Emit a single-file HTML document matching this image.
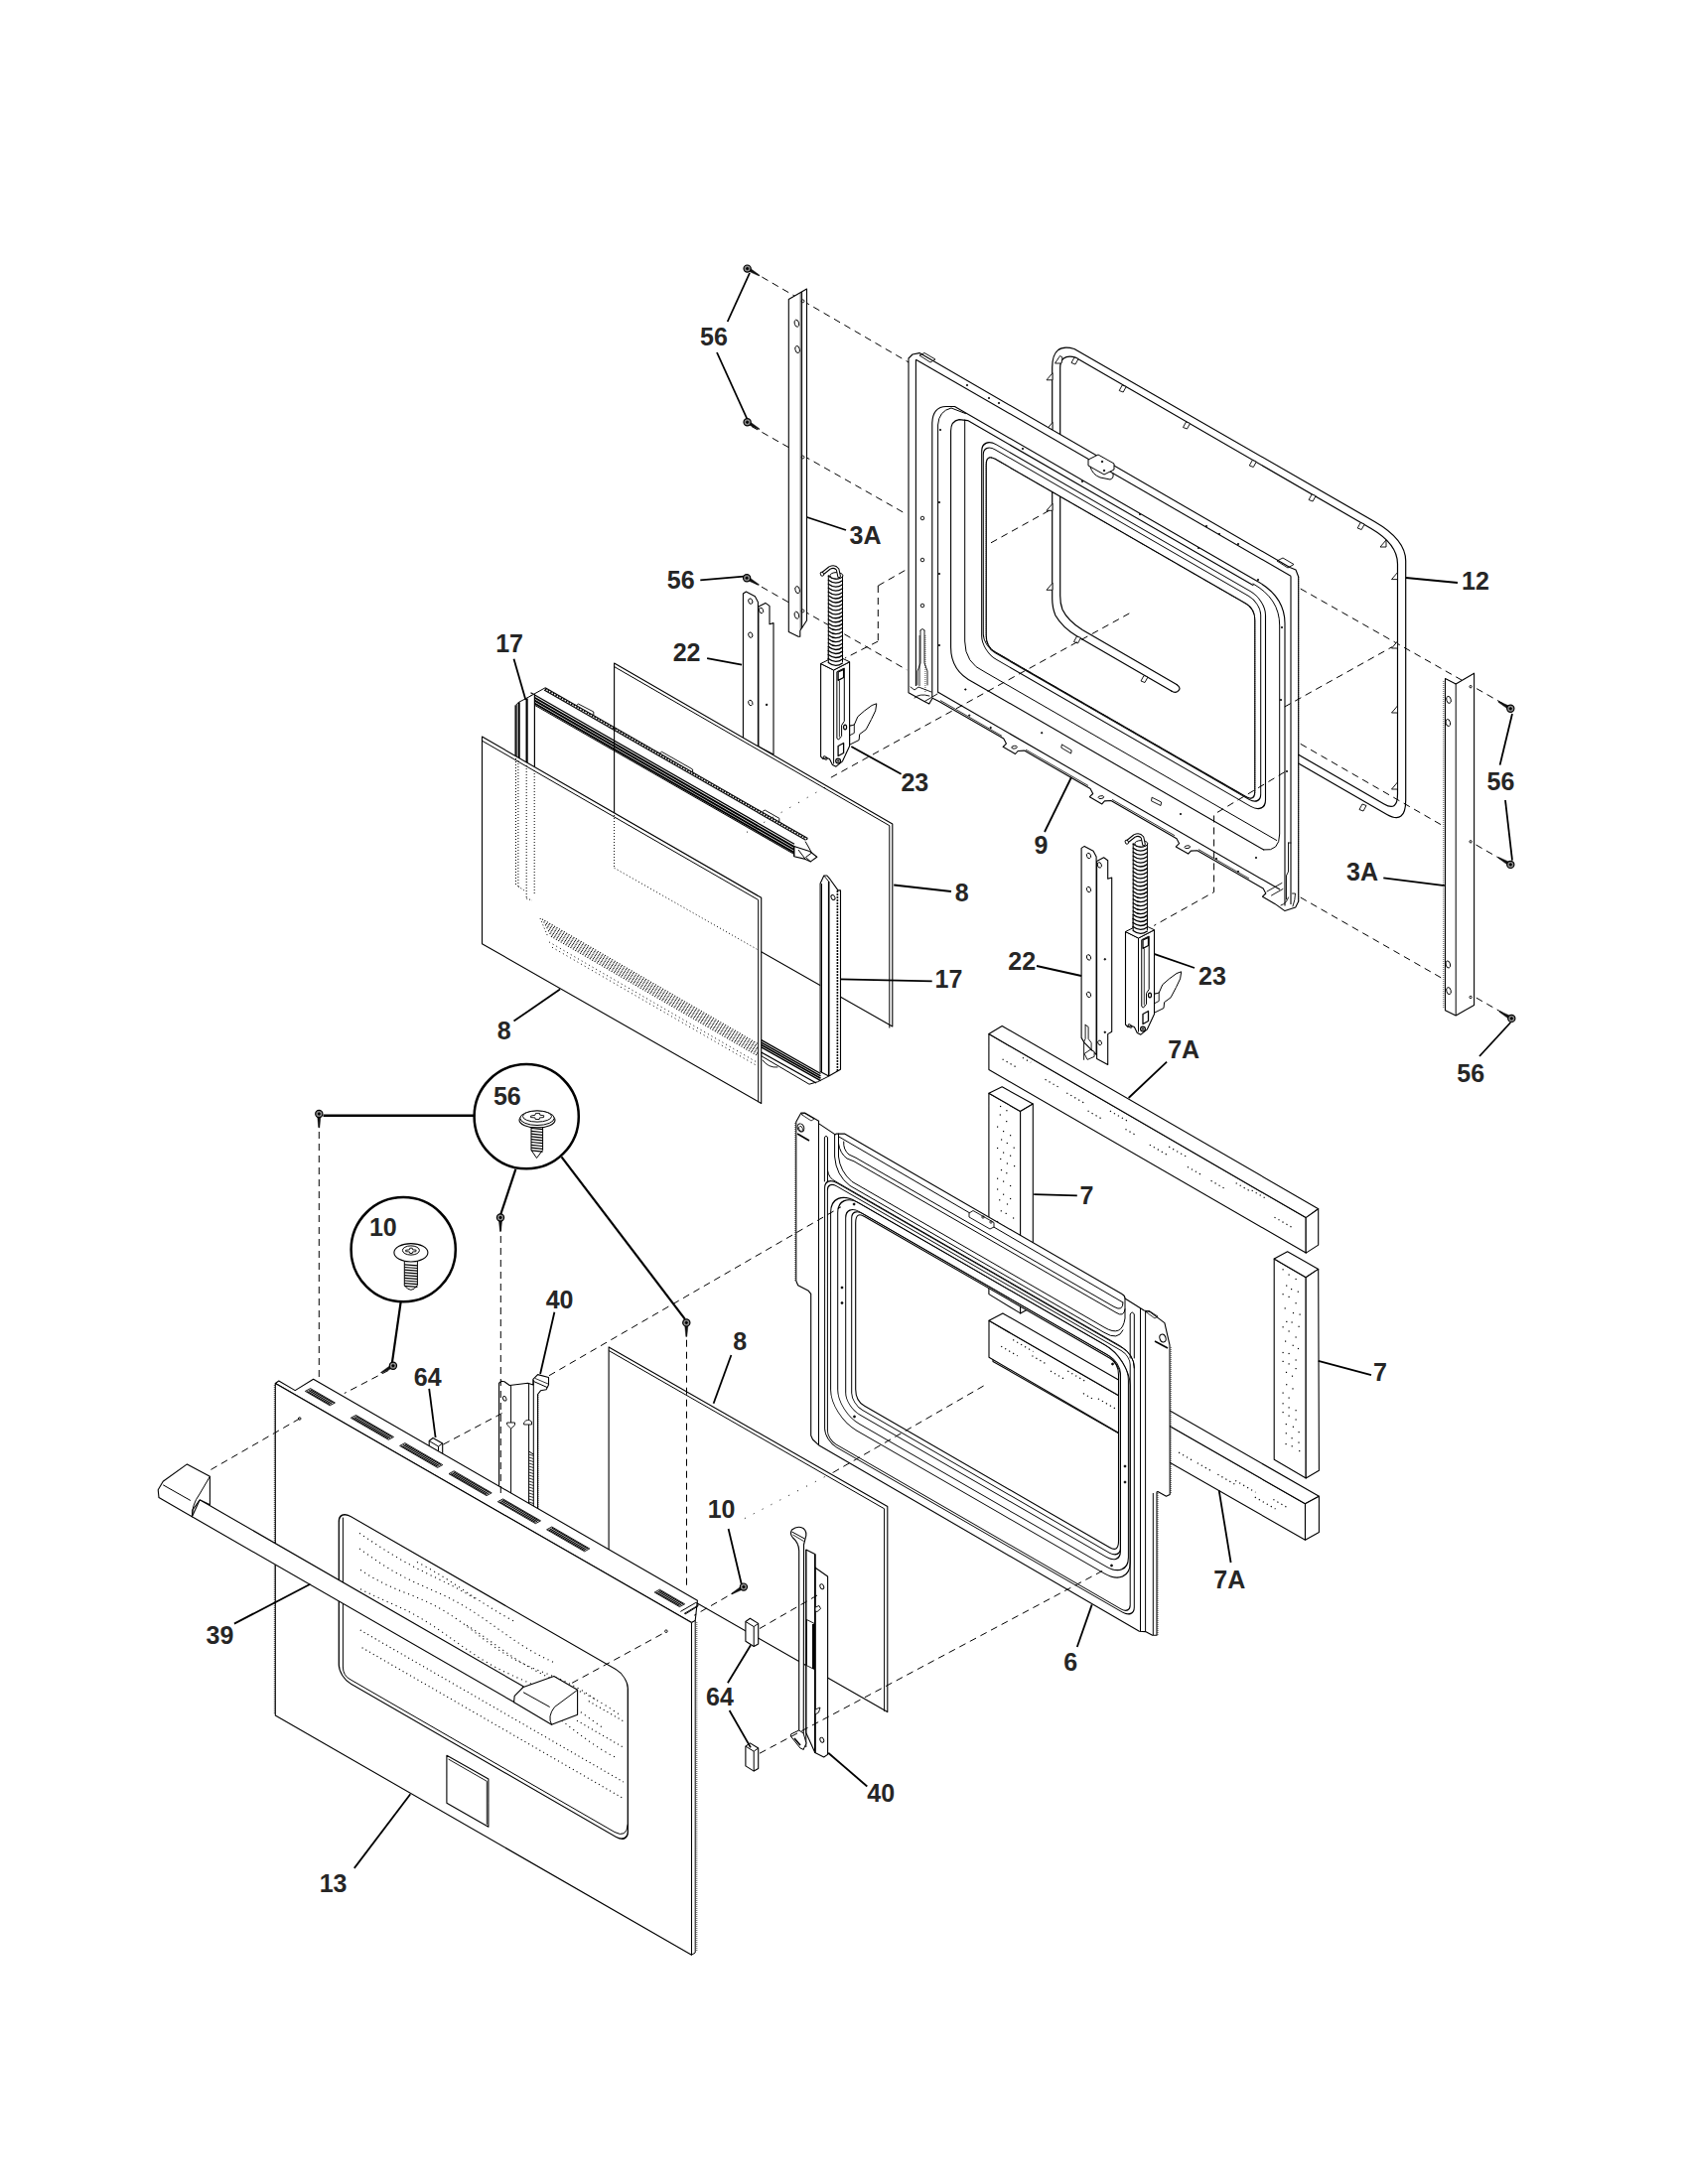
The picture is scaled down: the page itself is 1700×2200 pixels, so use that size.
<!DOCTYPE html>
<html><head><meta charset="utf-8"><title>Door exploded view</title>
<style>
html,body{margin:0;padding:0;background:#fff;}
svg{display:block;}
text{font-family:"Liberation Sans",sans-serif;font-weight:bold;fill:#262626;}
</style></head><body>
<svg width="1700" height="2200" viewBox="0 0 1700 2200">
<rect x="0" y="0" width="1700" height="2200" fill="#fff"/>
<line x1="757.0" y1="273.0" x2="916.0" y2="365.5" stroke="#000" stroke-width="1.0" stroke-dasharray="7 5"/>
<line x1="757.0" y1="429.5" x2="913.0" y2="518.0" stroke="#000" stroke-width="1.0" stroke-dasharray="7 5"/>
<line x1="756.6" y1="585.2" x2="913.3" y2="674.8" stroke="#000" stroke-width="1.0" stroke-dasharray="7 5"/>
<line x1="884.3" y1="590.0" x2="884.3" y2="646.0" stroke="#000" stroke-width="1.0" stroke-dasharray="7 5"/>
<line x1="884.3" y1="590.0" x2="930.0" y2="564.0" stroke="#000" stroke-width="1.0" stroke-dasharray="7 5"/>
<line x1="884.3" y1="646.0" x2="851.0" y2="663.0" stroke="#000" stroke-width="1.0" stroke-dasharray="7 5"/>
<line x1="1309.7" y1="593.0" x2="1519.5" y2="712.0" stroke="#000" stroke-width="1.0" stroke-dasharray="7 5"/>
<line x1="1309.7" y1="749.3" x2="1519.5" y2="870.0" stroke="#000" stroke-width="1.0" stroke-dasharray="7 5"/>
<line x1="1309.7" y1="904.0" x2="1519.5" y2="1023.8" stroke="#000" stroke-width="1.0" stroke-dasharray="7 5"/>
<path d="M1179.7,696 L1084.8,641 Q1069.9,632 1063,620 Q1059.7,612 1059.7,603 L1059.7,370 Q1059.8,345 1082,351.5 L1384.4,525.5 Q1415.7,543.6 1415.7,565 L1415.7,806 Q1415.7,831 1396.8,820.4 L1290,758.8" fill="none" stroke="#000" stroke-width="1.2" stroke-linejoin="round" stroke-linecap="round"/>
<path d="M1185,689.6 L1090.1,634.6 Q1075.2,625 1070,614 Q1067.7,608 1067.7,600 L1067.7,372 Q1067.2,356 1083,360 L1381,532.5 Q1407.5,548 1407.5,568 L1407.5,800 Q1407.5,818 1394,810 L1290,750" fill="none" stroke="#000" stroke-width="1.2" stroke-linejoin="round" stroke-linecap="round"/>
<path d="M1185,689.6 Q1190.5,693.5 1186,696.5 Q1183,698.3 1179.7,696" fill="none" stroke="#000" stroke-width="1.2" stroke-linejoin="round" stroke-linecap="round"/>
<polygon points="1082.0,360.0 1086.0,361.5 1083.0,367.0 1079.0,365.5" fill="#fff" stroke="#000" stroke-width="0.9" stroke-linejoin="round"/>
<polygon points="1130.2,388.0 1134.2,389.5 1131.2,395.0 1127.2,393.5" fill="#fff" stroke="#000" stroke-width="0.9" stroke-linejoin="round"/>
<polygon points="1194.5,425.0 1198.5,426.5 1195.5,432.0 1191.5,430.5" fill="#fff" stroke="#000" stroke-width="0.9" stroke-linejoin="round"/>
<polygon points="1261.3,463.5 1265.3,465.0 1262.3,470.5 1258.3,469.0" fill="#fff" stroke="#000" stroke-width="0.9" stroke-linejoin="round"/>
<polygon points="1321.1,498.0 1325.1,499.5 1322.1,505.0 1318.1,503.5" fill="#fff" stroke="#000" stroke-width="0.9" stroke-linejoin="round"/>
<polygon points="1370.2,526.5 1374.2,528.0 1371.2,533.5 1367.2,532.0" fill="#fff" stroke="#000" stroke-width="0.9" stroke-linejoin="round"/>
<polygon points="1396.0,544.0 1396.0,551.0 1390.0,551.0" fill="#fff" stroke="#000" stroke-width="0.9" stroke-linejoin="round"/>
<polygon points="1060.0,375.8 1060.0,382.8 1054.0,382.8" fill="#fff" stroke="#000" stroke-width="0.9" stroke-linejoin="round"/>
<polygon points="1060.0,425.5 1060.0,432.5 1054.0,432.5" fill="#fff" stroke="#000" stroke-width="0.9" stroke-linejoin="round"/>
<polygon points="1060.0,507.3 1060.0,514.3 1054.0,514.3" fill="#fff" stroke="#000" stroke-width="0.9" stroke-linejoin="round"/>
<polygon points="1060.0,587.3 1060.0,594.3 1054.0,594.3" fill="#fff" stroke="#000" stroke-width="0.9" stroke-linejoin="round"/>
<polygon points="1062.5,366.0 1067.5,358.5 1070.0,360.0 1069.0,366.0" fill="#fff" stroke="#000" stroke-width="0.9" stroke-linejoin="round"/>
<polygon points="1407.5,576.6 1407.5,583.6 1401.5,583.6" fill="#fff" stroke="#000" stroke-width="0.9" stroke-linejoin="round"/>
<polygon points="1407.5,646.0 1407.5,653.0 1401.5,653.0" fill="#fff" stroke="#000" stroke-width="0.9" stroke-linejoin="round"/>
<polygon points="1407.5,711.0 1407.5,718.0 1401.5,718.0" fill="#fff" stroke="#000" stroke-width="0.9" stroke-linejoin="round"/>
<polygon points="1407.5,788.0 1407.5,795.0 1401.5,795.0" fill="#fff" stroke="#000" stroke-width="0.9" stroke-linejoin="round"/>
<polygon points="1372.0,810.0 1376.0,811.5 1373.0,817.0 1369.0,815.5" fill="#fff" stroke="#000" stroke-width="0.9" stroke-linejoin="round"/>
<polygon points="1084.5,641.0 1088.5,642.5 1085.5,648.0 1081.5,646.5" fill="#fff" stroke="#000" stroke-width="0.9" stroke-linejoin="round"/>
<polygon points="1152.0,680.5 1156.0,682.0 1153.0,687.5 1149.0,686.0" fill="#fff" stroke="#000" stroke-width="0.9" stroke-linejoin="round"/>
<path d="M915.0,361.0 L919.0,357.0 L926.0,355.6 L1299.0,571.5 L1305.0,574.0 L1307.7,581.0 L1307.7,908.0 L1304.7,914.0 L1294.0,917.6 L1294.0,917.6 L1283.9,910.4 L1271.5,903.2 L1274.8,900.0 L1272.2,895.0 L1205.8,856.7 L1199.3,857.1 L1196.7,860.1 L1184.3,852.9 L1187.6,849.7 L1185.0,844.7 L1118.9,806.5 L1112.4,806.9 L1109.8,809.9 L1097.4,802.7 L1100.7,799.5 L1098.1,794.5 L1031.6,756.1 L1025.1,756.5 L1022.5,759.5 L1010.1,752.3 L1013.4,749.1 L1010.8,744.1 L945.6,706.5 L939.1,703.2 L935.8,709.1 L931.3,706.8 L915.0,697.8 Z M993.2,468.8 Q993.2,457.1 1002.2,462.3 L1254.8000000000002,608.1 Q1263.8000000000002,613.3 1263.8000000000002,625.0 L1263.8000000000002,796.1 Q1263.8000000000002,807.8 1254.8000000000002,802.6 L1002.2,656.8 Q993.2,651.6 993.2,639.9 Z" fill="#fff" fill-rule="evenodd" stroke="#000" stroke-width="1.1" stroke-linejoin="round"/>
<line x1="947.0" y1="705.5" x2="1009.0" y2="741.3" stroke="#000" stroke-width="0.8"/>
<line x1="1033.0" y1="755.1" x2="1096.0" y2="791.5" stroke="#000" stroke-width="0.8"/>
<line x1="1120.0" y1="805.4" x2="1183.0" y2="841.7" stroke="#000" stroke-width="0.8"/>
<line x1="1207.0" y1="855.6" x2="1258.0" y2="885.0" stroke="#000" stroke-width="0.8"/>
<ellipse cx="1021.6" cy="752.7" rx="2.8" ry="1.4" fill="none" stroke="#000" stroke-width="0.9" transform="rotate(-8 1021.6 752.7)"/>
<ellipse cx="1108.9" cy="803.1" rx="2.8" ry="1.4" fill="none" stroke="#000" stroke-width="0.9" transform="rotate(-8 1108.9 803.1)"/>
<ellipse cx="1195.8" cy="853.2" rx="2.8" ry="1.4" fill="none" stroke="#000" stroke-width="0.9" transform="rotate(-8 1195.8 853.2)"/>
<line x1="922.4" y1="362.2" x2="922.4" y2="691.0" stroke="#000" stroke-width="1.1"/>
<line x1="926.1" y1="640.0" x2="926.1" y2="691.0" stroke="#000" stroke-width="0.8"/>
<line x1="931.9" y1="640.0" x2="931.9" y2="697.0" stroke="#000" stroke-width="0.7" stroke-dasharray="1 1"/>
<line x1="922.4" y1="362.2" x2="1300.0" y2="580.2" stroke="#000" stroke-width="1.1"/>
<line x1="1300.0" y1="580.2" x2="1300.0" y2="911.0" stroke="#000" stroke-width="1.1"/>
<line x1="1307.7" y1="581.0" x2="1307.7" y2="908.0" stroke="#000" stroke-width="0.7" stroke-dasharray="1 1"/>
<line x1="944.3" y1="697.1" x2="1289.0" y2="896.1" stroke="#000" stroke-width="1.1"/>
<path d="M938.8,702 L938.8,426 Q939.5,409.5 953,409.5 L961.5,409.5 L1268,586.5 Q1294,602 1294,628 L1294,912" fill="none" stroke="#000" stroke-width="1.1" stroke-linejoin="round" stroke-linecap="round"/>
<path d="M944.6,697 L944.6,428 Q945.5,414 958,411 L972.5,416.6 M1262,588 Q1288.7,603 1288.7,630 L1288.7,840 Q1288.7,858 1272.7,856" fill="none" stroke="#000" stroke-width="1.0" stroke-linejoin="round" stroke-linecap="round"/>
<path d="M1262,589.5 L974.6,423.6 L966,422.6 Q957.6,424 957.6,434 L957.6,652 Q957.6,676 980,687.2 L1272.7,856" fill="none" stroke="#000" stroke-width="1.1" stroke-linejoin="round" stroke-linecap="round"/>
<path d="M971.7,423 L971.7,646 Q971.7,668 992,677 L1285.7,846.5" fill="none" stroke="#000" stroke-width="1.0" stroke-linejoin="round" stroke-linecap="round"/>
<rect x="0" y="0" width="285.8" height="216.5" rx="15" ry="15" transform="translate(988.7,439.4) skewY(30)" fill="none" stroke="#000" stroke-width="1.1"/>
<rect x="0" y="0" width="279.4" height="204.8" rx="12" ry="12" transform="translate(990.3,446.0) skewY(30)" fill="none" stroke="#000" stroke-width="1.0"/>
<rect x="0" y="0" width="270.6" height="194.5" rx="9" ry="9" transform="translate(993.2,457.1) skewY(30)" fill="none" stroke="#000" stroke-width="0.9" stroke-dasharray="1.2 0.8"/>
<polygon points="1069.4,749.9 1079.2,755.8 1078.6,759.0 1068.8,753.2" fill="none" stroke="#000" stroke-width="0.9" stroke-linejoin="round"/>
<polygon points="1160.1,803.2 1169.6,808.0 1169.0,811.5 1159.5,806.8" fill="none" stroke="#000" stroke-width="0.9" stroke-linejoin="round"/>
<circle cx="929.0" cy="522.0" r="1.8" fill="none" stroke="#000" stroke-width="0.9"/>
<circle cx="929.0" cy="564.0" r="1.8" fill="none" stroke="#000" stroke-width="0.9"/>
<circle cx="929.0" cy="610.0" r="1.8" fill="none" stroke="#000" stroke-width="0.9"/>
<path d="M927,635 L927,668 L924,676 L924,690 M931,635 L931,668 L934,676 L934,690 M927,635 Q929,632 931,635" fill="none" stroke="#000" stroke-width="0.9" stroke-linejoin="round" stroke-linecap="round"/>
<path d="M1297.5,849 L1297.5,878 L1295.5,882 L1295.5,906 M1300,849 L1297.5,849" fill="none" stroke="#000" stroke-width="0.9" stroke-linejoin="round" stroke-linecap="round"/>
<path d="M917,692 L921,695 L925,692 L938,697 M931.3,706.5 L944,699 M921,703 Q926,698 936,701" fill="none" stroke="#000" stroke-width="0.9" stroke-linejoin="round" stroke-linecap="round"/>
<path d="M1276,898 L1291,889.5 M1280.5,902 L1292,895.5 M1290,912 Q1296,910 1297.5,904 M1302,913 Q1304.5,906 1304.5,900 L1301.5,900" fill="none" stroke="#000" stroke-width="0.9" stroke-linejoin="round" stroke-linecap="round"/>
<polygon points="1096.0,463.0 1106.0,458.0 1122.0,467.0 1122.0,473.0 1112.0,478.0 1096.0,469.0" fill="#fff" stroke="#000" stroke-width="1.0" stroke-linejoin="round"/>
<path d="M1098,470 Q1100,478 1108,481 L1118,483 Q1122,482 1121,477" fill="none" stroke="#000" stroke-width="1.0" stroke-linejoin="round" stroke-linecap="round"/>
<circle cx="1110.0" cy="465.0" r="0.8" fill="#000" stroke="#000" stroke-width="0.8"/>
<circle cx="1112.0" cy="474.0" r="0.8" fill="#000" stroke="#000" stroke-width="0.8"/>
<polygon points="1286.0,565.0 1292.0,562.0 1303.0,568.5 1297.0,572.0" fill="none" stroke="#000" stroke-width="0.9" stroke-linejoin="round"/>
<polygon points="926.0,358.0 931.0,355.5 942.0,362.0 937.0,365.0" fill="none" stroke="#000" stroke-width="0.9" stroke-linejoin="round"/>
<circle cx="974.0" cy="388.0" r="0.7" fill="#000" stroke="#000" stroke-width="0.8"/>
<circle cx="996.0" cy="401.0" r="0.7" fill="#000" stroke="#000" stroke-width="0.8"/>
<circle cx="1006.0" cy="406.0" r="0.7" fill="#000" stroke="#000" stroke-width="0.8"/>
<circle cx="1030.0" cy="452.0" r="0.7" fill="#000" stroke="#000" stroke-width="0.8"/>
<circle cx="1090.0" cy="485.0" r="0.7" fill="#000" stroke="#000" stroke-width="0.8"/>
<circle cx="1148.0" cy="518.0" r="0.7" fill="#000" stroke="#000" stroke-width="0.8"/>
<circle cx="1207.0" cy="552.0" r="0.7" fill="#000" stroke="#000" stroke-width="0.8"/>
<circle cx="1215.0" cy="530.0" r="0.7" fill="#000" stroke="#000" stroke-width="0.8"/>
<circle cx="1228.0" cy="538.0" r="0.7" fill="#000" stroke="#000" stroke-width="0.8"/>
<circle cx="1247.0" cy="548.0" r="0.7" fill="#000" stroke="#000" stroke-width="0.8"/>
<circle cx="1267.0" cy="584.0" r="0.7" fill="#000" stroke="#000" stroke-width="0.8"/>
<circle cx="947.0" cy="433.0" r="0.7" fill="#000" stroke="#000" stroke-width="0.8"/>
<circle cx="946.0" cy="506.0" r="0.7" fill="#000" stroke="#000" stroke-width="0.8"/>
<circle cx="946.0" cy="578.0" r="0.7" fill="#000" stroke="#000" stroke-width="0.8"/>
<circle cx="946.0" cy="650.0" r="0.7" fill="#000" stroke="#000" stroke-width="0.8"/>
<circle cx="972.3" cy="694.5" r="0.7" fill="#000" stroke="#000" stroke-width="0.8"/>
<circle cx="976.2" cy="720.6" r="0.7" fill="#000" stroke="#000" stroke-width="0.8"/>
<circle cx="997.7" cy="733.0" r="0.7" fill="#000" stroke="#000" stroke-width="0.8"/>
<circle cx="1049.2" cy="738.2" r="0.7" fill="#000" stroke="#000" stroke-width="0.8"/>
<circle cx="1189.0" cy="820.0" r="0.7" fill="#000" stroke="#000" stroke-width="0.8"/>
<circle cx="1265.0" cy="864.0" r="0.7" fill="#000" stroke="#000" stroke-width="0.8"/>
<circle cx="1225.0" cy="865.0" r="0.7" fill="#000" stroke="#000" stroke-width="0.8"/>
<circle cx="1247.0" cy="878.0" r="0.7" fill="#000" stroke="#000" stroke-width="0.8"/>
<circle cx="1296.0" cy="777.0" r="0.7" fill="#000" stroke="#000" stroke-width="0.8"/>
<circle cx="1291.0" cy="632.0" r="0.7" fill="#000" stroke="#000" stroke-width="0.8"/>
<circle cx="1290.0" cy="705.0" r="0.7" fill="#000" stroke="#000" stroke-width="0.8"/>
<polygon points="794.3,301.5 812.5,291.0 812.5,625.0 805.8,635.3 805.8,641.2 804.0,641.2 794.3,636.5" fill="#fff" stroke="#000" stroke-width="1.1" stroke-linejoin="round"/>
<line x1="807.6" y1="294.0" x2="807.6" y2="633.0" stroke="#000" stroke-width="1.0"/>
<line x1="806.2" y1="295.0" x2="806.2" y2="634.0" stroke="#000" stroke-width="0.7"/>
<ellipse cx="802.4" cy="325.7" rx="2.2" ry="3.6" fill="none" stroke="#000" stroke-width="0.9" transform="rotate(-15 802.4 325.7)"/>
<ellipse cx="803.1" cy="352.0" rx="2.2" ry="3.6" fill="none" stroke="#000" stroke-width="0.9" transform="rotate(-15 803.1 352.0)"/>
<ellipse cx="803.1" cy="594.1" rx="2.2" ry="3.6" fill="none" stroke="#000" stroke-width="0.9" transform="rotate(-15 803.1 594.1)"/>
<ellipse cx="802.4" cy="619.7" rx="2.2" ry="3.6" fill="none" stroke="#000" stroke-width="0.9" transform="rotate(-15 802.4 619.7)"/>
<circle cx="808.6" cy="303.3" r="1.4" fill="none" stroke="#000" stroke-width="0.9"/>
<circle cx="808.6" cy="460.5" r="1.4" fill="none" stroke="#000" stroke-width="0.9"/>
<circle cx="808.6" cy="615.4" r="1.4" fill="none" stroke="#000" stroke-width="0.9"/>
<polygon points="1455.5,683.5 1466.2,688.9 1484.6,678.2 1484.6,1012.4 1466.2,1023.0 1455.5,1017.7" fill="#fff" stroke="#000" stroke-width="1.1" stroke-linejoin="round"/>
<line x1="1466.2" y1="688.9" x2="1466.2" y2="1023.0" stroke="#000" stroke-width="1.0"/>
<line x1="1453.8" y1="686.0" x2="1453.8" y2="1015.0" stroke="#000" stroke-width="0.7" stroke-dasharray="1 1"/>
<ellipse cx="1459.0" cy="704.9" rx="2.2" ry="3.6" fill="none" stroke="#000" stroke-width="0.9" transform="rotate(-15 1459.0 704.9)"/>
<ellipse cx="1458.3" cy="728.0" rx="2.2" ry="3.6" fill="none" stroke="#000" stroke-width="0.9" transform="rotate(-15 1458.3 728.0)"/>
<ellipse cx="1458.3" cy="971.5" rx="2.2" ry="3.6" fill="none" stroke="#000" stroke-width="0.9" transform="rotate(-15 1458.3 971.5)"/>
<ellipse cx="1459.0" cy="998.1" rx="2.2" ry="3.6" fill="none" stroke="#000" stroke-width="0.9" transform="rotate(-15 1459.0 998.1)"/>
<circle cx="1481.1" cy="691.7" r="1.2" fill="none" stroke="#000" stroke-width="0.9"/>
<circle cx="1481.1" cy="847.8" r="1.2" fill="none" stroke="#000" stroke-width="0.9"/>
<circle cx="1481.1" cy="1004.5" r="1.2" fill="none" stroke="#000" stroke-width="0.9"/>
<polygon points="748.4,598.0 751.4,596.0 760.4,600.8 763.4,606.5 763.4,757.0 748.4,748.0" fill="#fff" stroke="#000" stroke-width="1.1" stroke-linejoin="round"/>
<polygon points="763.9,611.0 770.9,607.4 775.0,610.4 775.0,628.8 779.0,627.6 779.0,760.0 763.9,752.0" fill="#fff" stroke="#000" stroke-width="1.1" stroke-linejoin="round"/>
<ellipse cx="755.8" cy="605.6" rx="2" ry="2.8" fill="none" stroke="#000" stroke-width="0.9" transform="rotate(-20 755.8 605.6)"/>
<ellipse cx="766.6" cy="615.0" rx="2" ry="2.8" fill="none" stroke="#000" stroke-width="0.9" transform="rotate(-20 766.6 615.0)"/>
<ellipse cx="755.8" cy="639.6" rx="2" ry="2.8" fill="none" stroke="#000" stroke-width="0.9" transform="rotate(-20 755.8 639.6)"/>
<ellipse cx="755.8" cy="708.0" rx="2" ry="2.8" fill="none" stroke="#000" stroke-width="0.9" transform="rotate(-20 755.8 708.0)"/>
<circle cx="772.1" cy="709.9" r="0.8" fill="#000" stroke="#000" stroke-width="0.8"/>
<polygon points="855.6,731.3 860.3,730.1 863.9,721.8 870.6,716.0 878.1,710.5 882.8,708.8 881.7,715.9 877.6,724.5 872.2,734.8 865.7,739.6 865.1,745.5 855.6,750.2" fill="#fff" stroke="#000" stroke-width="1.0" stroke-linejoin="round"/>
<polygon points="855.6,731.3 860.3,730.1 860.3,738.4 855.6,740.8" fill="#fff" stroke="#000" stroke-width="0.9" stroke-linejoin="round"/>
<polygon points="834.3,581.3 848.5,581.3 848.5,667.5 834.3,667.5" fill="#fff" stroke="#fff" stroke-width="0.1" stroke-linejoin="round"/>
<line x1="834.3" y1="579.3" x2="834.3" y2="667.5" stroke="#000" stroke-width="1.0"/>
<line x1="848.5" y1="579.3" x2="848.5" y2="667.5" stroke="#000" stroke-width="1.0"/>
<path d="M834.3,580.3 Q841.4,585.8 848.5,580.8" fill="none" stroke="#000" stroke-width="1.3" stroke-linejoin="round" stroke-linecap="round"/>
<path d="M834.3,584.3 Q841.4,589.8 848.5,584.8" fill="none" stroke="#000" stroke-width="1.3" stroke-linejoin="round" stroke-linecap="round"/>
<path d="M834.3,588.2 Q841.4,593.7 848.5,588.7" fill="none" stroke="#000" stroke-width="1.3" stroke-linejoin="round" stroke-linecap="round"/>
<path d="M834.3,592.2 Q841.4,597.7 848.5,592.7" fill="none" stroke="#000" stroke-width="1.3" stroke-linejoin="round" stroke-linecap="round"/>
<path d="M834.3,596.2 Q841.4,601.7 848.5,596.7" fill="none" stroke="#000" stroke-width="1.3" stroke-linejoin="round" stroke-linecap="round"/>
<path d="M834.3,600.1 Q841.4,605.6 848.5,600.6" fill="none" stroke="#000" stroke-width="1.3" stroke-linejoin="round" stroke-linecap="round"/>
<path d="M834.3,604.1 Q841.4,609.6 848.5,604.6" fill="none" stroke="#000" stroke-width="1.3" stroke-linejoin="round" stroke-linecap="round"/>
<path d="M834.3,608.0 Q841.4,613.5 848.5,608.5" fill="none" stroke="#000" stroke-width="1.3" stroke-linejoin="round" stroke-linecap="round"/>
<path d="M834.3,612.0 Q841.4,617.5 848.5,612.5" fill="none" stroke="#000" stroke-width="1.3" stroke-linejoin="round" stroke-linecap="round"/>
<path d="M834.3,616.0 Q841.4,621.5 848.5,616.5" fill="none" stroke="#000" stroke-width="1.3" stroke-linejoin="round" stroke-linecap="round"/>
<path d="M834.3,619.9 Q841.4,625.4 848.5,620.4" fill="none" stroke="#000" stroke-width="1.3" stroke-linejoin="round" stroke-linecap="round"/>
<path d="M834.3,623.9 Q841.4,629.4 848.5,624.4" fill="none" stroke="#000" stroke-width="1.3" stroke-linejoin="round" stroke-linecap="round"/>
<path d="M834.3,627.9 Q841.4,633.4 848.5,628.4" fill="none" stroke="#000" stroke-width="1.3" stroke-linejoin="round" stroke-linecap="round"/>
<path d="M834.3,631.8 Q841.4,637.3 848.5,632.3" fill="none" stroke="#000" stroke-width="1.3" stroke-linejoin="round" stroke-linecap="round"/>
<path d="M834.3,635.8 Q841.4,641.3 848.5,636.3" fill="none" stroke="#000" stroke-width="1.3" stroke-linejoin="round" stroke-linecap="round"/>
<path d="M834.3,639.8 Q841.4,645.3 848.5,640.3" fill="none" stroke="#000" stroke-width="1.3" stroke-linejoin="round" stroke-linecap="round"/>
<path d="M834.3,643.7 Q841.4,649.2 848.5,644.2" fill="none" stroke="#000" stroke-width="1.3" stroke-linejoin="round" stroke-linecap="round"/>
<path d="M834.3,647.7 Q841.4,653.2 848.5,648.2" fill="none" stroke="#000" stroke-width="1.3" stroke-linejoin="round" stroke-linecap="round"/>
<path d="M834.3,651.6 Q841.4,657.1 848.5,652.1" fill="none" stroke="#000" stroke-width="1.3" stroke-linejoin="round" stroke-linecap="round"/>
<path d="M834.3,655.6 Q841.4,661.1 848.5,656.1" fill="none" stroke="#000" stroke-width="1.3" stroke-linejoin="round" stroke-linecap="round"/>
<path d="M834.3,659.6 Q841.4,665.1 848.5,660.1" fill="none" stroke="#000" stroke-width="1.3" stroke-linejoin="round" stroke-linecap="round"/>
<path d="M834.3,663.5 Q841.4,669.0 848.5,664.0" fill="none" stroke="#000" stroke-width="1.3" stroke-linejoin="round" stroke-linecap="round"/>
<path d="M834.3,667.5 Q841.4,673.0 848.5,668.0" fill="none" stroke="#000" stroke-width="1.3" stroke-linejoin="round" stroke-linecap="round"/>
<ellipse cx="842.4" cy="579.8" rx="6.5" ry="3.2" fill="#fff" stroke="#000" stroke-width="1.0" transform="rotate(0 842.4 579.8)"/>
<path d="M828.1,578.0 L835.6,572.0 Q840.6,569.5 843.6,573.5 L845.1,580.5" fill="none" stroke="#000" stroke-width="3.6" stroke-linejoin="round" stroke-linecap="round"/>
<path d="M828.1,578.0 L835.6,572.0 Q840.6,569.5 843.6,573.5 L845.1,580.5" fill="none" stroke="#fff" stroke-width="1.6" stroke-linejoin="round" stroke-linecap="round"/>
<ellipse cx="827.9" cy="578.2" rx="1.6" ry="2.0" fill="#fff" stroke="#000" stroke-width="0.9" transform="rotate(-30 827.9 578.2)"/>
<polygon points="826.6,668.5 839.6,675.0 855.6,666.7 855.6,751.4 848.5,766.8 842.0,772.2 838.4,770.4 835.5,764.5 832.5,763.5 829.0,764.5 826.6,762.1" fill="#fff" stroke="#000" stroke-width="1.1" stroke-linejoin="round"/>
<polygon points="826.6,668.5 839.6,675.0 855.6,666.7 842.6,660.5" fill="#fff" stroke="#000" stroke-width="1.0" stroke-linejoin="round"/>
<polygon points="834.3,652.5 848.5,652.5 848.5,667.0 841.4,670.5 834.3,667.5" fill="#fff" stroke="#fff" stroke-width="0.1" stroke-linejoin="round"/>
<path d="M834.3,651.6 Q841.4,657.1 848.5,652.1" fill="none" stroke="#000" stroke-width="1.3" stroke-linejoin="round" stroke-linecap="round"/>
<path d="M834.3,655.6 Q841.4,661.1 848.5,656.1" fill="none" stroke="#000" stroke-width="1.3" stroke-linejoin="round" stroke-linecap="round"/>
<path d="M834.3,659.6 Q841.4,665.1 848.5,660.1" fill="none" stroke="#000" stroke-width="1.3" stroke-linejoin="round" stroke-linecap="round"/>
<path d="M834.3,663.5 Q841.4,669.0 848.5,664.0" fill="none" stroke="#000" stroke-width="1.3" stroke-linejoin="round" stroke-linecap="round"/>
<path d="M834.3,667.5 Q841.4,673.0 848.5,668.0" fill="none" stroke="#000" stroke-width="1.3" stroke-linejoin="round" stroke-linecap="round"/>
<line x1="834.3" y1="652.5" x2="834.3" y2="667.5" stroke="#000" stroke-width="1.0"/>
<line x1="848.5" y1="652.5" x2="848.5" y2="667.0" stroke="#000" stroke-width="1.0"/>
<line x1="839.6" y1="675.0" x2="839.6" y2="769.5" stroke="#000" stroke-width="1.0"/>
<path d="M843.2,676.5 L850.3000000000001,673.0 L850.3000000000001,726.5 L847.6,730.5 L847.6,741.5 L844.6,745.0 L843.2,744.0 Z" fill="none" stroke="#000" stroke-width="1.0" stroke-linejoin="round" stroke-linecap="round"/>
<line x1="845.4" y1="685.5" x2="845.4" y2="742.5" stroke="#000" stroke-width="0.8"/>
<polygon points="844.1,677.0 849.6,674.3 849.6,682.5 844.1,685.3" fill="none" stroke="#000" stroke-width="1.3" stroke-linejoin="round"/>
<polygon points="844.1,751.5 849.6,748.5 849.6,758.5 844.1,761.5" fill="none" stroke="#000" stroke-width="1.3" stroke-linejoin="round"/>
<ellipse cx="851.1" cy="732.5" rx="1.5" ry="2.4" fill="none" stroke="#000" stroke-width="1.2" transform="rotate(0 851.1 732.5)"/>
<circle cx="844.1" cy="766.5" r="2.4" fill="none" stroke="#000" stroke-width="1.2"/>
<circle cx="844.1" cy="766.5" r="0.8" fill="#000" stroke="#000" stroke-width="0.8"/>
<ellipse cx="831.1" cy="763.5" rx="2.2" ry="1.4" fill="none" stroke="#000" stroke-width="0.9" transform="rotate(30 831.1 763.5)"/>
<polygon points="1089.1,854.4 1092.1,852.4 1101.1,857.2 1104.1,862.9 1104.1,1062.4 1092.1,1050.4 1089.1,1045.4" fill="#fff" stroke="#000" stroke-width="1.1" stroke-linejoin="round"/>
<polygon points="1104.6,867.4 1111.6,863.8 1115.7,866.8 1115.7,885.2 1119.7,884.0 1119.7,1039.2 1115.7,1041.6 1115.7,1072.4 1104.6,1066.4" fill="#fff" stroke="#000" stroke-width="1.1" stroke-linejoin="round"/>
<ellipse cx="1096.5" cy="862.0" rx="2" ry="2.8" fill="none" stroke="#000" stroke-width="0.9" transform="rotate(-20 1096.5 862.0)"/>
<ellipse cx="1107.3" cy="871.4" rx="2" ry="2.8" fill="none" stroke="#000" stroke-width="0.9" transform="rotate(-20 1107.3 871.4)"/>
<ellipse cx="1096.5" cy="896.0" rx="2" ry="2.8" fill="none" stroke="#000" stroke-width="0.9" transform="rotate(-20 1096.5 896.0)"/>
<ellipse cx="1096.5" cy="964.4" rx="2" ry="2.8" fill="none" stroke="#000" stroke-width="0.9" transform="rotate(-20 1096.5 964.4)"/>
<ellipse cx="1096.5" cy="1001.9" rx="2" ry="2.8" fill="none" stroke="#000" stroke-width="0.9" transform="rotate(-20 1096.5 1001.9)"/>
<circle cx="1112.8" cy="966.3" r="0.8" fill="#000" stroke="#000" stroke-width="0.8"/>
<circle cx="1112.8" cy="1039.8" r="0.8" fill="#000" stroke="#000" stroke-width="0.8"/>
<path d="M1093.1,1032.4 l3,2 l0,12 l3,4 l0,14 M1093.1,1032.4 l0,14 l-1.5,3 l0,18" fill="none" stroke="#000" stroke-width="0.9" stroke-linejoin="round" stroke-linecap="round"/>
<ellipse cx="1107.6" cy="1050.4" rx="1.8" ry="2.4" fill="none" stroke="#000" stroke-width="0.9" transform="rotate(-20 1107.6 1050.4)"/>
<polygon points="1092.1,1061.4 1098.1,1057.4 1102.1,1059.4 1102.1,1064.4 1095.1,1067.4" fill="#fff" stroke="#000" stroke-width="0.9" stroke-linejoin="round"/>
<polygon points="1162.5,1001.3 1167.2,1000.1 1170.8,991.8 1177.5,986.0 1185.0,980.5 1189.7,978.8 1188.6,985.9 1184.5,994.5 1179.1,1004.8 1172.6,1009.6 1172.0,1015.5 1162.5,1020.2" fill="#fff" stroke="#000" stroke-width="1.0" stroke-linejoin="round"/>
<polygon points="1162.5,1001.3 1167.2,1000.1 1167.2,1008.4 1162.5,1010.8" fill="#fff" stroke="#000" stroke-width="0.9" stroke-linejoin="round"/>
<polygon points="1141.2,851.3 1155.4,851.3 1155.4,937.5 1141.2,937.5" fill="#fff" stroke="#fff" stroke-width="0.1" stroke-linejoin="round"/>
<line x1="1141.2" y1="849.3" x2="1141.2" y2="937.5" stroke="#000" stroke-width="1.0"/>
<line x1="1155.4" y1="849.3" x2="1155.4" y2="937.5" stroke="#000" stroke-width="1.0"/>
<path d="M1141.2,850.3 Q1148.3,855.8 1155.4,850.8" fill="none" stroke="#000" stroke-width="1.3" stroke-linejoin="round" stroke-linecap="round"/>
<path d="M1141.2,854.3 Q1148.3,859.8 1155.4,854.8" fill="none" stroke="#000" stroke-width="1.3" stroke-linejoin="round" stroke-linecap="round"/>
<path d="M1141.2,858.2 Q1148.3,863.7 1155.4,858.7" fill="none" stroke="#000" stroke-width="1.3" stroke-linejoin="round" stroke-linecap="round"/>
<path d="M1141.2,862.2 Q1148.3,867.7 1155.4,862.7" fill="none" stroke="#000" stroke-width="1.3" stroke-linejoin="round" stroke-linecap="round"/>
<path d="M1141.2,866.2 Q1148.3,871.7 1155.4,866.7" fill="none" stroke="#000" stroke-width="1.3" stroke-linejoin="round" stroke-linecap="round"/>
<path d="M1141.2,870.1 Q1148.3,875.6 1155.4,870.6" fill="none" stroke="#000" stroke-width="1.3" stroke-linejoin="round" stroke-linecap="round"/>
<path d="M1141.2,874.1 Q1148.3,879.6 1155.4,874.6" fill="none" stroke="#000" stroke-width="1.3" stroke-linejoin="round" stroke-linecap="round"/>
<path d="M1141.2,878.0 Q1148.3,883.5 1155.4,878.5" fill="none" stroke="#000" stroke-width="1.3" stroke-linejoin="round" stroke-linecap="round"/>
<path d="M1141.2,882.0 Q1148.3,887.5 1155.4,882.5" fill="none" stroke="#000" stroke-width="1.3" stroke-linejoin="round" stroke-linecap="round"/>
<path d="M1141.2,886.0 Q1148.3,891.5 1155.4,886.5" fill="none" stroke="#000" stroke-width="1.3" stroke-linejoin="round" stroke-linecap="round"/>
<path d="M1141.2,889.9 Q1148.3,895.4 1155.4,890.4" fill="none" stroke="#000" stroke-width="1.3" stroke-linejoin="round" stroke-linecap="round"/>
<path d="M1141.2,893.9 Q1148.3,899.4 1155.4,894.4" fill="none" stroke="#000" stroke-width="1.3" stroke-linejoin="round" stroke-linecap="round"/>
<path d="M1141.2,897.9 Q1148.3,903.4 1155.4,898.4" fill="none" stroke="#000" stroke-width="1.3" stroke-linejoin="round" stroke-linecap="round"/>
<path d="M1141.2,901.8 Q1148.3,907.3 1155.4,902.3" fill="none" stroke="#000" stroke-width="1.3" stroke-linejoin="round" stroke-linecap="round"/>
<path d="M1141.2,905.8 Q1148.3,911.3 1155.4,906.3" fill="none" stroke="#000" stroke-width="1.3" stroke-linejoin="round" stroke-linecap="round"/>
<path d="M1141.2,909.8 Q1148.3,915.3 1155.4,910.3" fill="none" stroke="#000" stroke-width="1.3" stroke-linejoin="round" stroke-linecap="round"/>
<path d="M1141.2,913.7 Q1148.3,919.2 1155.4,914.2" fill="none" stroke="#000" stroke-width="1.3" stroke-linejoin="round" stroke-linecap="round"/>
<path d="M1141.2,917.7 Q1148.3,923.2 1155.4,918.2" fill="none" stroke="#000" stroke-width="1.3" stroke-linejoin="round" stroke-linecap="round"/>
<path d="M1141.2,921.6 Q1148.3,927.1 1155.4,922.1" fill="none" stroke="#000" stroke-width="1.3" stroke-linejoin="round" stroke-linecap="round"/>
<path d="M1141.2,925.6 Q1148.3,931.1 1155.4,926.1" fill="none" stroke="#000" stroke-width="1.3" stroke-linejoin="round" stroke-linecap="round"/>
<path d="M1141.2,929.6 Q1148.3,935.1 1155.4,930.1" fill="none" stroke="#000" stroke-width="1.3" stroke-linejoin="round" stroke-linecap="round"/>
<path d="M1141.2,933.5 Q1148.3,939.0 1155.4,934.0" fill="none" stroke="#000" stroke-width="1.3" stroke-linejoin="round" stroke-linecap="round"/>
<path d="M1141.2,937.5 Q1148.3,943.0 1155.4,938.0" fill="none" stroke="#000" stroke-width="1.3" stroke-linejoin="round" stroke-linecap="round"/>
<ellipse cx="1149.3" cy="849.8" rx="6.5" ry="3.2" fill="#fff" stroke="#000" stroke-width="1.0" transform="rotate(0 1149.3 849.8)"/>
<path d="M1135.0,848.0 L1142.5,842.0 Q1147.5,839.5 1150.5,843.5 L1152.0,850.5" fill="none" stroke="#000" stroke-width="3.6" stroke-linejoin="round" stroke-linecap="round"/>
<path d="M1135.0,848.0 L1142.5,842.0 Q1147.5,839.5 1150.5,843.5 L1152.0,850.5" fill="none" stroke="#fff" stroke-width="1.6" stroke-linejoin="round" stroke-linecap="round"/>
<ellipse cx="1134.8" cy="848.2" rx="1.6" ry="2.0" fill="#fff" stroke="#000" stroke-width="0.9" transform="rotate(-30 1134.8 848.2)"/>
<polygon points="1133.5,938.5 1146.5,945.0 1162.5,936.7 1162.5,1021.4 1155.4,1036.8 1148.9,1042.2 1145.3,1040.4 1142.4,1034.5 1139.4,1033.5 1135.9,1034.5 1133.5,1032.1" fill="#fff" stroke="#000" stroke-width="1.1" stroke-linejoin="round"/>
<polygon points="1133.5,938.5 1146.5,945.0 1162.5,936.7 1149.5,930.5" fill="#fff" stroke="#000" stroke-width="1.0" stroke-linejoin="round"/>
<polygon points="1141.2,922.5 1155.4,922.5 1155.4,937.0 1148.3,940.5 1141.2,937.5" fill="#fff" stroke="#fff" stroke-width="0.1" stroke-linejoin="round"/>
<path d="M1141.2,921.6 Q1148.3,927.1 1155.4,922.1" fill="none" stroke="#000" stroke-width="1.3" stroke-linejoin="round" stroke-linecap="round"/>
<path d="M1141.2,925.6 Q1148.3,931.1 1155.4,926.1" fill="none" stroke="#000" stroke-width="1.3" stroke-linejoin="round" stroke-linecap="round"/>
<path d="M1141.2,929.6 Q1148.3,935.1 1155.4,930.1" fill="none" stroke="#000" stroke-width="1.3" stroke-linejoin="round" stroke-linecap="round"/>
<path d="M1141.2,933.5 Q1148.3,939.0 1155.4,934.0" fill="none" stroke="#000" stroke-width="1.3" stroke-linejoin="round" stroke-linecap="round"/>
<path d="M1141.2,937.5 Q1148.3,943.0 1155.4,938.0" fill="none" stroke="#000" stroke-width="1.3" stroke-linejoin="round" stroke-linecap="round"/>
<line x1="1141.2" y1="922.5" x2="1141.2" y2="937.5" stroke="#000" stroke-width="1.0"/>
<line x1="1155.4" y1="922.5" x2="1155.4" y2="937.0" stroke="#000" stroke-width="1.0"/>
<line x1="1146.5" y1="945.0" x2="1146.5" y2="1039.5" stroke="#000" stroke-width="1.0"/>
<path d="M1150.1,946.5 L1157.2,943.0 L1157.2,996.5 L1154.5,1000.5 L1154.5,1011.5 L1151.5,1015.0 L1150.1,1014.0 Z" fill="none" stroke="#000" stroke-width="1.0" stroke-linejoin="round" stroke-linecap="round"/>
<line x1="1152.3" y1="955.5" x2="1152.3" y2="1012.5" stroke="#000" stroke-width="0.8"/>
<polygon points="1151.0,947.0 1156.5,944.3 1156.5,952.5 1151.0,955.3" fill="none" stroke="#000" stroke-width="1.3" stroke-linejoin="round"/>
<polygon points="1151.0,1021.5 1156.5,1018.5 1156.5,1028.5 1151.0,1031.5" fill="none" stroke="#000" stroke-width="1.3" stroke-linejoin="round"/>
<ellipse cx="1158.0" cy="1002.5" rx="1.5" ry="2.4" fill="none" stroke="#000" stroke-width="1.2" transform="rotate(0 1158.0 1002.5)"/>
<circle cx="1151.0" cy="1036.5" r="2.4" fill="none" stroke="#000" stroke-width="1.2"/>
<circle cx="1151.0" cy="1036.5" r="0.8" fill="#000" stroke="#000" stroke-width="0.8"/>
<ellipse cx="1138.0" cy="1033.5" rx="2.2" ry="1.4" fill="none" stroke="#000" stroke-width="0.9" transform="rotate(30 1138.0 1033.5)"/>
<line x1="836.9" y1="783.2" x2="1137.3" y2="617.9" stroke="#000" stroke-width="1.0" stroke-dasharray="7 5"/>
<line x1="998.0" y1="546.8" x2="1059.0" y2="513.0" stroke="#000" stroke-width="1.0" stroke-dasharray="7 5"/>
<line x1="1293.7" y1="712.0" x2="1402.0" y2="651.7" stroke="#000" stroke-width="1.0" stroke-dasharray="7 5"/>
<polyline points="1293.7,777.7 1222.6,820.4 1222.6,898.6 1162.2,932.4" fill="none" stroke="#000" stroke-width="1.0" stroke-linejoin="round" stroke-dasharray="7 5"/>
<polygon points="618.6,668.1 898.8,829.9 898.8,1034.0 618.6,874.3" fill="#fff" stroke="#000" stroke-width="1.1" stroke-linejoin="round"/>
<line x1="618.6" y1="671.6" x2="895.8" y2="831.7" stroke="#000" stroke-width="1.0"/>
<line x1="895.8" y1="831.7" x2="895.8" y2="1035.5" stroke="#000" stroke-width="1.0"/>
<line x1="549.1" y1="692.7" x2="813.5" y2="844.5" stroke="#000" stroke-width="1.1"/>
<line x1="548.0" y1="695.0" x2="811.5" y2="846.2" stroke="#000" stroke-width="1.1"/>
<line x1="549.1" y1="694.0" x2="813.5" y2="845.8" stroke="#000" stroke-width="1.6" stroke-dasharray="1.5 1.5"/>
<line x1="538.4" y1="698.8" x2="549.1" y2="692.8" stroke="#000" stroke-width="1.0"/>
<line x1="534.5" y1="697.7" x2="800.0" y2="850.3" stroke="#000" stroke-width="1.3"/>
<line x1="534.5" y1="700.5" x2="800.0" y2="853.1" stroke="#000" stroke-width="1.9"/>
<line x1="534.5" y1="703.4" x2="800.0" y2="856.0" stroke="#000" stroke-width="1.9"/>
<line x1="534.5" y1="706.3" x2="800.0" y2="858.9" stroke="#000" stroke-width="1.9"/>
<line x1="534.5" y1="708.0" x2="800.0" y2="860.6" stroke="#000" stroke-width="1.0"/>
<polyline points="580.4,710.6 582.5,709.1 597.8,717.0 597.8,720.5" fill="none" stroke="#000" stroke-width="0.9" stroke-linejoin="round"/>
<polyline points="664.4,758.8 666.5,757.3 697.6,775.0 697.6,778.5" fill="none" stroke="#000" stroke-width="0.9" stroke-linejoin="round"/>
<polyline points="768.1,817.4 770.2,816.0 784.8,824.3 784.8,828.0" fill="none" stroke="#000" stroke-width="0.9" stroke-linejoin="round"/>
<polygon points="799.7,852.6 815.3,857.6 817.5,859.0 822.8,863.3 816.4,867.9 811.1,865.4 799.7,862.8" fill="#fff" stroke="#000" stroke-width="1.1" stroke-linejoin="round"/>
<line x1="811.1" y1="847.6" x2="817.5" y2="859.0" stroke="#000" stroke-width="1.0"/>
<line x1="804.0" y1="856.0" x2="811.1" y2="865.4" stroke="#000" stroke-width="1.0"/>
<line x1="817.5" y1="859.0" x2="811.5" y2="863.5" stroke="#000" stroke-width="1.0"/>
<line x1="811.5" y1="863.5" x2="816.4" y2="867.9" stroke="#000" stroke-width="0.9"/>
<line x1="799.7" y1="852.6" x2="799.7" y2="862.8" stroke="#000" stroke-width="1.2"/>
<polygon points="519.2,710.6 522.4,707.4 529.9,703.5 538.4,698.8 538.4,776.0 519.2,765.0" fill="#fff" stroke="#000" stroke-width="1.0" stroke-linejoin="round"/>
<line x1="520.7" y1="709.5" x2="520.7" y2="766.0" stroke="#000" stroke-width="0.8"/>
<line x1="522.7" y1="707.4" x2="522.7" y2="767.0" stroke="#000" stroke-width="2.0"/>
<line x1="530.6" y1="703.5" x2="530.6" y2="771.5" stroke="#000" stroke-width="2.2"/>
<line x1="538.4" y1="698.8" x2="538.4" y2="776.0" stroke="#000" stroke-width="1.0"/>
<line x1="519.2" y1="710.6" x2="519.2" y2="765.0" stroke="#000" stroke-width="1.0"/>
<polygon points="826.1,890.0 829.8,882.0 832.9,882.0 836.0,885.7 844.0,896.9 846.5,896.9 846.5,1077.3 834.7,1084.1 826.1,1079.5" fill="#fff" stroke="#000" stroke-width="1.1" stroke-linejoin="round"/>
<line x1="827.5" y1="890.0" x2="827.5" y2="1080.0" stroke="#000" stroke-width="1.0"/>
<line x1="834.7" y1="888.0" x2="834.7" y2="1084.0" stroke="#000" stroke-width="1.6"/>
<line x1="843.4" y1="897.0" x2="843.4" y2="1079.0" stroke="#000" stroke-width="1.6" stroke-dasharray="2 1"/>
<ellipse cx="839.0" cy="904.0" rx="1.8" ry="2.6" fill="#fff" stroke="#000" stroke-width="0.9" transform="rotate(-30 839.0 904.0)"/>
<line x1="829.8" y1="882.0" x2="834.7" y2="888.0" stroke="#000" stroke-width="0.9"/>
<line x1="766.7" y1="1047.7" x2="826.5" y2="1081.5" stroke="#000" stroke-width="1.4"/>
<line x1="766.7" y1="1050.1" x2="826.5" y2="1083.9" stroke="#000" stroke-width="1.6"/>
<line x1="766.7" y1="1052.5" x2="826.5" y2="1086.3" stroke="#000" stroke-width="1.6"/>
<line x1="766.7" y1="1054.9" x2="826.5" y2="1088.7" stroke="#000" stroke-width="1.4"/>
<polyline points="766.7,1060.0 766.7,1063.7 815.0,1092.2 823.6,1089.7 834.7,1084.1" fill="none" stroke="#000" stroke-width="1.0" stroke-linejoin="round"/>
<line x1="766.7" y1="1060.0" x2="822.0" y2="1091.0" stroke="#000" stroke-width="1.4"/>
<path d="M768,1068 Q774,1076 783,1075" fill="none" stroke="#000" stroke-width="0.9" stroke-linejoin="round" stroke-linecap="round"/>
<polygon points="485.5,742.1 766.7,904.3 766.7,1111.5 485.5,950.7" fill="#fff" stroke="#000" stroke-width="1.1" stroke-linejoin="round"/>
<line x1="485.5" y1="746.2" x2="763.7" y2="906.5" stroke="#000" stroke-width="1.0"/>
<line x1="763.7" y1="906.5" x2="763.7" y2="1110.0" stroke="#000" stroke-width="1.0"/>
<line x1="519.5" y1="764.0" x2="519.5" y2="893.0" stroke="#000" stroke-width="1.0" stroke-dasharray="1 2"/>
<line x1="521.9" y1="766.0" x2="521.9" y2="895.0" stroke="#000" stroke-width="1.0" stroke-dasharray="1 2"/>
<line x1="530.2" y1="771.0" x2="530.2" y2="905.0" stroke="#000" stroke-width="1.0" stroke-dasharray="1 2"/>
<line x1="538.2" y1="776.0" x2="538.2" y2="902.0" stroke="#000" stroke-width="1.0" stroke-dasharray="1 2"/>
<line x1="521.9" y1="893.0" x2="528.0" y2="897.0" stroke="#000" stroke-width="1.0" stroke-dasharray="1 2"/>
<line x1="530.2" y1="905.0" x2="536.0" y2="907.0" stroke="#000" stroke-width="1.0" stroke-dasharray="1 2"/>
<line x1="618.6" y1="818.0" x2="618.6" y2="874.3" stroke="#000" stroke-width="1.0" stroke-dasharray="1 2"/>
<line x1="618.6" y1="874.3" x2="763.7" y2="957.0" stroke="#000" stroke-width="1.0" stroke-dasharray="1 2.5"/>
<line x1="546.0" y1="925.9" x2="763.0" y2="1051.4" stroke="#000" stroke-width="1.1" stroke-dasharray="1.1 1.7"/>
<line x1="547.5" y1="928.7" x2="763.0" y2="1053.4" stroke="#000" stroke-width="1.1" stroke-dasharray="1.1 1.7"/>
<line x1="549.0" y1="931.6" x2="763.0" y2="1055.4" stroke="#000" stroke-width="1.1" stroke-dasharray="1.1 1.7"/>
<line x1="550.5" y1="934.5" x2="763.0" y2="1057.4" stroke="#000" stroke-width="1.1" stroke-dasharray="1.1 1.7"/>
<line x1="552.0" y1="937.4" x2="763.0" y2="1059.4" stroke="#000" stroke-width="1.1" stroke-dasharray="1.1 1.7"/>
<line x1="553.5" y1="940.2" x2="763.0" y2="1061.4" stroke="#000" stroke-width="1.1" stroke-dasharray="1.1 1.7"/>
<line x1="555.0" y1="943.1" x2="763.0" y2="1063.4" stroke="#000" stroke-width="1.1" stroke-dasharray="1.1 1.7"/>
<line x1="553.0" y1="948.9" x2="762.0" y2="1069.9" stroke="#000" stroke-width="1.0" stroke-dasharray="1 3.2"/>
<line x1="556.0" y1="954.2" x2="762.0" y2="1073.4" stroke="#000" stroke-width="1.0" stroke-dasharray="1 3.2"/>
<line x1="544.0" y1="925.0" x2="552.0" y2="944.0" stroke="#000" stroke-width="1.0" stroke-dasharray="1 2.5"/>
<line x1="752.0" y1="838.4" x2="834.8" y2="791.0" stroke="#000" stroke-width="1.0" stroke-dasharray="1 9"/>
<polygon points="995.9,1041.5 1315.2,1226.6 1315.2,1262.1 995.9,1077.6" fill="#fff" stroke="#000" stroke-width="1.1" stroke-linejoin="round"/>
<polygon points="995.9,1041.5 1009.2,1033.5 1327.7,1217.7 1315.2,1226.6" fill="#fff" stroke="#000" stroke-width="1.1" stroke-linejoin="round"/>
<polygon points="1315.2,1226.6 1327.7,1217.7 1327.7,1254.1 1315.2,1262.1" fill="#fff" stroke="#000" stroke-width="1.1" stroke-linejoin="round"/>
<line x1="1009.6" y1="1067.0" x2="1022.8" y2="1074.6" stroke="#000" stroke-width="1.2" stroke-dasharray="1.2 3.4"/>
<line x1="1029.9" y1="1065.5" x2="1038.2" y2="1070.3" stroke="#000" stroke-width="1.2" stroke-dasharray="1.2 3.4"/>
<line x1="1052.6" y1="1087.3" x2="1067.4" y2="1095.9" stroke="#000" stroke-width="1.2" stroke-dasharray="1.2 3.4"/>
<line x1="1074.3" y1="1100.9" x2="1092.1" y2="1111.2" stroke="#000" stroke-width="1.2" stroke-dasharray="1.2 3.4"/>
<line x1="1095.6" y1="1119.0" x2="1110.7" y2="1127.7" stroke="#000" stroke-width="1.2" stroke-dasharray="1.2 3.4"/>
<line x1="1117.9" y1="1119.1" x2="1137.3" y2="1130.3" stroke="#000" stroke-width="1.2" stroke-dasharray="1.2 3.4"/>
<line x1="1133.5" y1="1137.5" x2="1144.2" y2="1143.6" stroke="#000" stroke-width="1.2" stroke-dasharray="1.2 3.4"/>
<line x1="1157.8" y1="1153.2" x2="1177.1" y2="1164.3" stroke="#000" stroke-width="1.2" stroke-dasharray="1.2 3.4"/>
<line x1="1177.2" y1="1155.1" x2="1196.2" y2="1166.0" stroke="#000" stroke-width="1.2" stroke-dasharray="1.2 3.4"/>
<line x1="1195.9" y1="1175.4" x2="1210.7" y2="1183.9" stroke="#000" stroke-width="1.2" stroke-dasharray="1.2 3.4"/>
<line x1="1219.6" y1="1189.3" x2="1234.1" y2="1197.7" stroke="#000" stroke-width="1.2" stroke-dasharray="1.2 3.4"/>
<line x1="1244.7" y1="1191.7" x2="1260.1" y2="1200.6" stroke="#000" stroke-width="1.2" stroke-dasharray="1.2 3.4"/>
<line x1="1260.7" y1="1199.1" x2="1276.5" y2="1208.2" stroke="#000" stroke-width="1.2" stroke-dasharray="1.2 3.4"/>
<line x1="1283.5" y1="1226.2" x2="1302.5" y2="1237.1" stroke="#000" stroke-width="1.2" stroke-dasharray="1.2 3.4"/>
<polygon points="995.9,1101.3 1027.6,1119.4 1027.6,1322.9 995.9,1303.6" fill="#fff" stroke="#000" stroke-width="1.1" stroke-linejoin="round"/>
<polygon points="995.9,1101.3 1009.2,1094.8 1040.3,1112.0 1027.6,1119.4" fill="#fff" stroke="#000" stroke-width="1.1" stroke-linejoin="round"/>
<polygon points="1027.6,1119.4 1040.3,1112.0 1040.3,1316.0 1027.6,1322.9" fill="#fff" stroke="#000" stroke-width="1.1" stroke-linejoin="round"/>
<rect x="1007.0" y="1113.9" width="1.2" height="1.2" fill="#000"/>
<rect x="1013.3" y="1118.1" width="1.2" height="1.2" fill="#000"/>
<rect x="1006.7" y="1122.4" width="1.2" height="1.2" fill="#000"/>
<rect x="1013.1" y="1129.0" width="1.2" height="1.2" fill="#000"/>
<rect x="1004.0" y="1134.5" width="1.2" height="1.2" fill="#000"/>
<rect x="1010.0" y="1139.0" width="1.2" height="1.2" fill="#000"/>
<rect x="1017.0" y="1143.1" width="1.2" height="1.2" fill="#000"/>
<rect x="1008.0" y="1147.4" width="1.2" height="1.2" fill="#000"/>
<rect x="1013.7" y="1150.9" width="1.2" height="1.2" fill="#000"/>
<rect x="1020.6" y="1155.6" width="1.2" height="1.2" fill="#000"/>
<rect x="1004.0" y="1155.9" width="1.2" height="1.2" fill="#000"/>
<rect x="1010.0" y="1160.5" width="1.2" height="1.2" fill="#000"/>
<rect x="1017.0" y="1163.6" width="1.2" height="1.2" fill="#000"/>
<rect x="1007.1" y="1166.9" width="1.2" height="1.2" fill="#000"/>
<rect x="1013.8" y="1171.4" width="1.2" height="1.2" fill="#000"/>
<rect x="1021.0" y="1174.0" width="1.2" height="1.2" fill="#000"/>
<rect x="1007.9" y="1178.0" width="1.2" height="1.2" fill="#000"/>
<rect x="1013.2" y="1181.1" width="1.2" height="1.2" fill="#000"/>
<rect x="1004.0" y="1186.6" width="1.2" height="1.2" fill="#000"/>
<rect x="1010.0" y="1189.5" width="1.2" height="1.2" fill="#000"/>
<rect x="1017.0" y="1193.9" width="1.2" height="1.2" fill="#000"/>
<rect x="1004.0" y="1197.4" width="1.2" height="1.2" fill="#000"/>
<rect x="1010.0" y="1202.6" width="1.2" height="1.2" fill="#000"/>
<rect x="1017.0" y="1206.9" width="1.2" height="1.2" fill="#000"/>
<rect x="1006.1" y="1208.2" width="1.2" height="1.2" fill="#000"/>
<rect x="1013.9" y="1212.4" width="1.2" height="1.2" fill="#000"/>
<rect x="1007.7" y="1219.2" width="1.2" height="1.2" fill="#000"/>
<rect x="1012.6" y="1221.8" width="1.2" height="1.2" fill="#000"/>
<rect x="1020.0" y="1226.4" width="1.2" height="1.2" fill="#000"/>
<rect x="1004.0" y="1229.9" width="1.2" height="1.2" fill="#000"/>
<rect x="1010.0" y="1234.2" width="1.2" height="1.2" fill="#000"/>
<rect x="1017.0" y="1238.2" width="1.2" height="1.2" fill="#000"/>
<rect x="1004.0" y="1240.7" width="1.2" height="1.2" fill="#000"/>
<rect x="1010.0" y="1243.7" width="1.2" height="1.2" fill="#000"/>
<rect x="1017.0" y="1249.8" width="1.2" height="1.2" fill="#000"/>
<rect x="1007.9" y="1251.8" width="1.2" height="1.2" fill="#000"/>
<rect x="1013.3" y="1255.6" width="1.2" height="1.2" fill="#000"/>
<rect x="1006.6" y="1261.7" width="1.2" height="1.2" fill="#000"/>
<rect x="1014.1" y="1264.9" width="1.2" height="1.2" fill="#000"/>
<rect x="1007.2" y="1274.2" width="1.2" height="1.2" fill="#000"/>
<rect x="1012.7" y="1277.4" width="1.2" height="1.2" fill="#000"/>
<rect x="1019.1" y="1281.6" width="1.2" height="1.2" fill="#000"/>
<rect x="1006.5" y="1288.0" width="1.2" height="1.2" fill="#000"/>
<rect x="1013.4" y="1289.2" width="1.2" height="1.2" fill="#000"/>
<rect x="1020.0" y="1295.3" width="1.2" height="1.2" fill="#000"/>
<polygon points="1000.0,1334.4 1314.5,1514.8 1314.5,1551.2 1000.0,1371.4" fill="#fff" stroke="#000" stroke-width="1.1" stroke-linejoin="round"/>
<polygon points="1000.0,1334.4 1013.5,1326.4 1328.4,1507.3 1314.5,1514.8" fill="#fff" stroke="#000" stroke-width="1.1" stroke-linejoin="round"/>
<polygon points="1314.5,1514.8 1328.4,1507.3 1328.4,1543.5 1314.5,1551.2" fill="#fff" stroke="#000" stroke-width="1.1" stroke-linejoin="round"/>
<line x1="1187.1" y1="1463.1" x2="1201.2" y2="1471.3" stroke="#000" stroke-width="1.2" stroke-dasharray="1.2 3.4"/>
<line x1="1205.8" y1="1473.7" x2="1219.1" y2="1481.3" stroke="#000" stroke-width="1.2" stroke-dasharray="1.2 3.4"/>
<line x1="1226.4" y1="1485.2" x2="1245.9" y2="1496.5" stroke="#000" stroke-width="1.2" stroke-dasharray="1.2 3.4"/>
<line x1="1244.2" y1="1491.4" x2="1264.5" y2="1503.2" stroke="#000" stroke-width="1.2" stroke-dasharray="1.2 3.4"/>
<line x1="1263.8" y1="1508.1" x2="1284.5" y2="1520.0" stroke="#000" stroke-width="1.2" stroke-dasharray="1.2 3.4"/>
<line x1="1282.4" y1="1510.5" x2="1296.8" y2="1518.8" stroke="#000" stroke-width="1.2" stroke-dasharray="1.2 3.4"/>
<polygon points="1283.2,1268.1 1315.2,1286.7 1315.2,1489.0 1283.2,1470.3" fill="#fff" stroke="#000" stroke-width="1.1" stroke-linejoin="round"/>
<polygon points="1283.2,1268.1 1296.6,1260.7 1327.7,1278.4 1315.2,1286.7" fill="#fff" stroke="#000" stroke-width="1.1" stroke-linejoin="round"/>
<polygon points="1315.2,1286.7 1327.7,1278.4 1328.4,1481.3 1315.2,1489.0" fill="#fff" stroke="#000" stroke-width="1.1" stroke-linejoin="round"/>
<rect x="1291.5" y="1278.2" width="1.2" height="1.2" fill="#000"/>
<rect x="1297.5" y="1283.5" width="1.2" height="1.2" fill="#000"/>
<rect x="1304.5" y="1287.9" width="1.2" height="1.2" fill="#000"/>
<rect x="1295.1" y="1294.5" width="1.2" height="1.2" fill="#000"/>
<rect x="1300.0" y="1298.0" width="1.2" height="1.2" fill="#000"/>
<rect x="1306.7" y="1300.6" width="1.2" height="1.2" fill="#000"/>
<rect x="1291.5" y="1303.1" width="1.2" height="1.2" fill="#000"/>
<rect x="1297.5" y="1305.8" width="1.2" height="1.2" fill="#000"/>
<rect x="1304.5" y="1312.1" width="1.2" height="1.2" fill="#000"/>
<rect x="1293.6" y="1317.3" width="1.2" height="1.2" fill="#000"/>
<rect x="1301.9" y="1322.0" width="1.2" height="1.2" fill="#000"/>
<rect x="1308.5" y="1323.5" width="1.2" height="1.2" fill="#000"/>
<rect x="1295.2" y="1330.8" width="1.2" height="1.2" fill="#000"/>
<rect x="1300.5" y="1331.4" width="1.2" height="1.2" fill="#000"/>
<rect x="1307.5" y="1335.7" width="1.2" height="1.2" fill="#000"/>
<rect x="1291.5" y="1336.2" width="1.2" height="1.2" fill="#000"/>
<rect x="1297.5" y="1340.4" width="1.2" height="1.2" fill="#000"/>
<rect x="1304.5" y="1346.4" width="1.2" height="1.2" fill="#000"/>
<rect x="1294.0" y="1350.5" width="1.2" height="1.2" fill="#000"/>
<rect x="1301.6" y="1354.7" width="1.2" height="1.2" fill="#000"/>
<rect x="1306.9" y="1357.9" width="1.2" height="1.2" fill="#000"/>
<rect x="1291.5" y="1361.9" width="1.2" height="1.2" fill="#000"/>
<rect x="1297.5" y="1362.9" width="1.2" height="1.2" fill="#000"/>
<rect x="1304.5" y="1369.4" width="1.2" height="1.2" fill="#000"/>
<rect x="1291.5" y="1370.8" width="1.2" height="1.2" fill="#000"/>
<rect x="1297.5" y="1373.3" width="1.2" height="1.2" fill="#000"/>
<rect x="1304.5" y="1378.0" width="1.2" height="1.2" fill="#000"/>
<rect x="1294.9" y="1381.8" width="1.2" height="1.2" fill="#000"/>
<rect x="1300.9" y="1385.6" width="1.2" height="1.2" fill="#000"/>
<rect x="1295.1" y="1394.1" width="1.2" height="1.2" fill="#000"/>
<rect x="1301.4" y="1398.3" width="1.2" height="1.2" fill="#000"/>
<rect x="1291.5" y="1402.5" width="1.2" height="1.2" fill="#000"/>
<rect x="1297.5" y="1407.5" width="1.2" height="1.2" fill="#000"/>
<rect x="1291.5" y="1413.2" width="1.2" height="1.2" fill="#000"/>
<rect x="1297.5" y="1417.3" width="1.2" height="1.2" fill="#000"/>
<rect x="1304.5" y="1420.1" width="1.2" height="1.2" fill="#000"/>
<rect x="1291.5" y="1422.0" width="1.2" height="1.2" fill="#000"/>
<rect x="1297.5" y="1425.6" width="1.2" height="1.2" fill="#000"/>
<rect x="1304.5" y="1429.4" width="1.2" height="1.2" fill="#000"/>
<rect x="1294.7" y="1434.0" width="1.2" height="1.2" fill="#000"/>
<rect x="1301.8" y="1436.7" width="1.2" height="1.2" fill="#000"/>
<rect x="1307.5" y="1442.0" width="1.2" height="1.2" fill="#000"/>
<rect x="1294.7" y="1443.2" width="1.2" height="1.2" fill="#000"/>
<rect x="1300.5" y="1448.1" width="1.2" height="1.2" fill="#000"/>
<rect x="1307.4" y="1452.5" width="1.2" height="1.2" fill="#000"/>
<rect x="1294.5" y="1454.0" width="1.2" height="1.2" fill="#000"/>
<rect x="1300.6" y="1456.2" width="1.2" height="1.2" fill="#000"/>
<rect x="1308.1" y="1461.0" width="1.2" height="1.2" fill="#000"/>
<polygon points="996.0,1330.3 1150.0,1419.2 1150.0,1457.0 996.0,1367.3" fill="#fff" stroke="#000" stroke-width="1.1" stroke-linejoin="round"/>
<polygon points="996.0,1330.3 1009.9,1322.9 1163.0,1411.0 1150.0,1419.2" fill="#fff" stroke="#000" stroke-width="1.1" stroke-linejoin="round"/>
<line x1="1008.2" y1="1356.2" x2="1024.8" y2="1365.8" stroke="#000" stroke-width="1.2" stroke-dasharray="1.2 3.4"/>
<line x1="1020.2" y1="1349.6" x2="1040.5" y2="1361.4" stroke="#000" stroke-width="1.2" stroke-dasharray="1.2 3.4"/>
<line x1="1039.4" y1="1365.7" x2="1052.7" y2="1373.4" stroke="#000" stroke-width="1.2" stroke-dasharray="1.2 3.4"/>
<line x1="1058.0" y1="1381.1" x2="1073.1" y2="1389.9" stroke="#000" stroke-width="1.2" stroke-dasharray="1.2 3.4"/>
<line x1="1075.3" y1="1381.1" x2="1092.5" y2="1391.1" stroke="#000" stroke-width="1.2" stroke-dasharray="1.2 3.4"/>
<line x1="1090.9" y1="1403.6" x2="1101.6" y2="1409.8" stroke="#000" stroke-width="1.2" stroke-dasharray="1.2 3.4"/>
<line x1="1105.9" y1="1408.9" x2="1123.3" y2="1419.0" stroke="#000" stroke-width="1.2" stroke-dasharray="1.2 3.4"/>
<path d="M801.8,1129.9 L806.8,1121.1 L810.5,1121.1 L824.6,1129.2 L824.4,1131.6 L841.2,1142.9 L842,1142.1 L850.5,1142.1 L1130,1303.5 Q1133,1305 1133,1308 L1152.1,1320 L1158,1321.4 L1172.9,1332.6 L1178,1354.8 L1178.2,1505.5 L1174.5,1507.3 L1166,1502.6 L1165,1503 L1165,1647.3 L1160.6,1647.3 L1153.6,1643.6 L1147.4,1643.2 L824.5,1455.7 L818.5,1450 L816.7,1446 L816.7,1303.4 L814.3,1300.3 L803.7,1294.7 L801.8,1290.3 Z M861.7,1231.9 Q861.7,1220.2 870.7,1225.4 L1117.5,1367.9 Q1126.5,1373.1 1126.5,1384.8 L1126.5,1552.3 Q1126.5,1564.0 1117.5,1558.8 L870.7,1416.3 Q861.7,1411.1 861.7,1399.4 Z" fill="#fff" fill-rule="evenodd" stroke="#000" stroke-width="1.1" stroke-linejoin="round"/>
<rect x="0" y="0" width="270.7" height="198.1" rx="11" ry="11" transform="translate(857.7,1216.1) skewY(30)" fill="none" stroke="#000" stroke-width="1.0"/>
<rect x="0" y="0" width="276.7" height="204.3" rx="14" ry="14" transform="translate(851.7,1212.6) skewY(30)" fill="none" stroke="#000" stroke-width="1.0"/>
<rect x="0" y="0" width="292.7" height="222.4" rx="22" ry="22" transform="translate(843.7,1199.5) skewY(30)" fill="none" stroke="#000" stroke-width="1.0"/>
<rect x="0" y="0" width="301.6" height="230.5" rx="26" ry="26" transform="translate(836.6,1195.4) skewY(30)" fill="none" stroke="#000" stroke-width="1.0"/>
<rect x="0" y="0" width="304.8" height="260.5" rx="9" ry="9" transform="translate(833.4,1189.6) skewY(30)" fill="none" stroke="#000" stroke-width="1.0"/>
<rect x="0" y="0" width="311.7" height="266.4" rx="12" ry="12" transform="translate(830.6,1184.6) skewY(30)" fill="none" stroke="#000" stroke-width="1.0"/>
<line x1="824.5" y1="1129.2" x2="824.5" y2="1455.7" stroke="#000" stroke-width="1.0"/>
<line x1="1148.5" y1="1318.0" x2="1148.5" y2="1643.4" stroke="#000" stroke-width="1.0"/>
<line x1="1153.6" y1="1321.0" x2="1153.6" y2="1643.6" stroke="#000" stroke-width="1.0"/>
<line x1="1161.3" y1="1504.0" x2="1161.3" y2="1647.0" stroke="#000" stroke-width="1.0"/>
<path d="M830.4,1190 L830.4,1146 Q832,1142.5 833.5,1146 L833.5,1190" fill="none" stroke="#000" stroke-width="1.0" stroke-linejoin="round" stroke-linecap="round"/>
<path d="M1138.2,1368 L1138.2,1324 Q1140.2,1320 1142.3,1324 L1142.3,1368" fill="none" stroke="#000" stroke-width="1.0" stroke-linejoin="round" stroke-linecap="round"/>
<line x1="844.5" y1="1144.8" x2="1131.0" y2="1312.0" stroke="#000" stroke-width="1.0"/>
<path d="M849.7,1150 Q849,1158 855,1163 L862,1166.3 L1122,1316.4 Q1131,1321.6 1131,1312.0" fill="none" stroke="#000" stroke-width="1.0" stroke-linejoin="round" stroke-linecap="round"/>
<path d="M844.5,1152 Q846,1162 853,1167 L860,1169.8 L1124,1322.2 Q1132,1327.4 1133,1318.8" fill="none" stroke="#000" stroke-width="1.0" stroke-linejoin="round" stroke-linecap="round"/>
<path d="M844.5,1142.1 L844.5,1165 Q846,1180 858,1190.3 L1112,1337.0 Q1130,1347.9 1133,1328 L1133,1308" fill="none" stroke="#000" stroke-width="1.0" stroke-linejoin="round" stroke-linecap="round"/>
<path d="M840.6,1142.9 L840.6,1165 Q842,1184 856,1194.4 L1112,1342.3 Q1126,1350.9 1131,1339.9" fill="none" stroke="#000" stroke-width="1.0" stroke-linejoin="round" stroke-linecap="round"/>
<path d="M833.5,1179 Q834.5,1187 842,1190.4 L1128,1355.7 Q1142.3,1364.0 1142.3,1378.0" fill="none" stroke="#000" stroke-width="1.0" stroke-linejoin="round" stroke-linecap="round"/>
<polygon points="976.0,1222.0 980.0,1219.5 1001.0,1231.5 1001.0,1236.0 997.0,1238.0 976.0,1226.0" fill="#fff" stroke="#000" stroke-width="0.9" stroke-linejoin="round"/>
<circle cx="990.0" cy="1226.0" r="1.2" fill="none" stroke="#000" stroke-width="0.8"/>
<circle cx="998.0" cy="1231.0" r="1.2" fill="none" stroke="#000" stroke-width="0.8"/>
<ellipse cx="806.5" cy="1136.0" rx="3.2" ry="4.2" fill="none" stroke="#000" stroke-width="1.0" transform="rotate(-20 806.5 1136.0)"/>
<ellipse cx="806.5" cy="1137.0" rx="1.8" ry="2.6" fill="none" stroke="#000" stroke-width="0.8" transform="rotate(-20 806.5 1137.0)"/>
<line x1="803.0" y1="1142.0" x2="815.0" y2="1149.0" stroke="#000" stroke-width="1.6"/>
<ellipse cx="1171.0" cy="1348.0" rx="3" ry="4" fill="none" stroke="#000" stroke-width="1.0" transform="rotate(-20 1171.0 1348.0)"/>
<line x1="1163.0" y1="1351.0" x2="1176.0" y2="1358.0" stroke="#000" stroke-width="1.6"/>
<polygon points="807.0,1122.5 810.0,1121.3 820.0,1127.0 817.0,1129.0" fill="none" stroke="#000" stroke-width="0.8" stroke-linejoin="round"/>
<polygon points="1154.0,1321.5 1157.0,1320.3 1166.0,1326.0 1163.0,1328.0" fill="none" stroke="#000" stroke-width="0.8" stroke-linejoin="round"/>
<circle cx="848.0" cy="1297.0" r="1.0" fill="#000" stroke="#000" stroke-width="0.8"/>
<circle cx="848.0" cy="1312.5" r="1.0" fill="#000" stroke="#000" stroke-width="0.8"/>
<circle cx="1133.0" cy="1477.0" r="1.0" fill="#000" stroke="#000" stroke-width="0.8"/>
<circle cx="1133.0" cy="1493.0" r="1.0" fill="#000" stroke="#000" stroke-width="0.8"/>
<circle cx="860.1" cy="1213.0" r="1.0" fill="#000" stroke="#000" stroke-width="0.8"/>
<circle cx="860.5" cy="1427.0" r="1.0" fill="#000" stroke="#000" stroke-width="0.8"/>
<circle cx="1120.5" cy="1374.0" r="1.0" fill="#000" stroke="#000" stroke-width="0.8"/>
<circle cx="1119.5" cy="1577.0" r="1.0" fill="#000" stroke="#000" stroke-width="0.8"/>
<line x1="800.8" y1="1131.0" x2="800.8" y2="1290.0" stroke="#000" stroke-width="0.7" stroke-dasharray="1 1"/>
<line x1="1179.2" y1="1357.0" x2="1179.2" y2="1505.0" stroke="#000" stroke-width="0.7" stroke-dasharray="1 1"/>
<line x1="1166.0" y1="1504.0" x2="1166.0" y2="1647.0" stroke="#000" stroke-width="0.7" stroke-dasharray="1 1"/>
<line x1="321.3" y1="1128.0" x2="321.3" y2="1394.6" stroke="#000" stroke-width="1.0" stroke-dasharray="7 5"/>
<polygon points="613.1,1356.9 893.8,1517.6 893.8,1724.6 613.1,1563.9" fill="#fff" stroke="#000" stroke-width="1.1" stroke-linejoin="round"/>
<line x1="613.1" y1="1360.5" x2="890.6" y2="1519.8" stroke="#000" stroke-width="1.0"/>
<line x1="890.6" y1="1519.8" x2="890.6" y2="1723.8" stroke="#000" stroke-width="1.0"/>
<polygon points="820.8,1579.0 833.6,1588.0 833.6,1767.4 829.7,1770.0 820.8,1765.5" fill="#fff" stroke="#000" stroke-width="1.1" stroke-linejoin="round"/>
<polygon points="811.8,1561.0 820.8,1565.5 820.8,1765.5 811.8,1745.6" fill="#fff" stroke="#000" stroke-width="1.1" stroke-linejoin="round"/>
<line x1="820.8" y1="1565.5" x2="820.8" y2="1765.5" stroke="#000" stroke-width="1.6"/>
<path d="M804.7,1743 L804.7,1562 Q804.5,1554 798.5,1549 Q795,1545 797.5,1541 Q803,1536.5 809,1539.5 Q813.5,1543 811,1550 L809.5,1556 L809.2,1762" fill="#fff" stroke="#000" stroke-width="1.1" stroke-linejoin="round" stroke-linecap="round"/>
<line x1="811.8" y1="1561.0" x2="811.8" y2="1760.0" stroke="#000" stroke-width="1.0"/>
<line x1="797.5" y1="1543.0" x2="810.5" y2="1550.0" stroke="#000" stroke-width="1.0"/>
<line x1="798.5" y1="1546.0" x2="809.5" y2="1552.5" stroke="#000" stroke-width="0.8"/>
<polygon points="812.4,1631.5 820.1,1635.4 820.1,1681.5 812.4,1677.7" fill="none" stroke="#000" stroke-width="0.9" stroke-linejoin="round"/>
<line x1="819.0" y1="1636.0" x2="819.0" y2="1681.0" stroke="#000" stroke-width="2.0"/>
<ellipse cx="827.8" cy="1598.2" rx="1.8" ry="2.6" fill="none" stroke="#000" stroke-width="0.9" transform="rotate(-25 827.8 1598.2)"/>
<ellipse cx="827.8" cy="1752.7" rx="1.8" ry="2.6" fill="none" stroke="#000" stroke-width="0.9" transform="rotate(-25 827.8 1752.7)"/>
<polygon points="821.0,1619.0 825.0,1617.5 826.5,1620.5 823.0,1623.5 821.0,1623.0" fill="#fff" stroke="#000" stroke-width="0.9" stroke-linejoin="round"/>
<polygon points="821.0,1722.0 826.0,1720.0 824.5,1725.0 821.0,1727.0" fill="#fff" stroke="#000" stroke-width="0.9" stroke-linejoin="round"/>
<polygon points="796.4,1747.0 804.7,1743.0 809.2,1746.0 812.0,1756.0 809.2,1762.3 806.0,1761.0 796.4,1749.0" fill="#fff" stroke="#000" stroke-width="1.0" stroke-linejoin="round"/>
<line x1="800.0" y1="1751.0" x2="806.0" y2="1758.0" stroke="#000" stroke-width="1.6"/>
<polygon points="750.9,1633.5 755.4,1630.3 763.7,1635.4 763.7,1655.9 759.2,1658.5 750.9,1653.3" fill="#fff" stroke="#000" stroke-width="1.1" stroke-linejoin="round"/>
<line x1="750.9" y1="1633.5" x2="759.2" y2="1638.6" stroke="#000" stroke-width="1.0"/>
<line x1="759.2" y1="1638.6" x2="763.7" y2="1635.4" stroke="#000" stroke-width="1.0"/>
<line x1="759.2" y1="1638.6" x2="759.2" y2="1658.5" stroke="#000" stroke-width="1.0"/>
<polygon points="750.9,1759.1 755.4,1755.9 763.7,1761.0 763.7,1781.5 759.2,1784.1 750.9,1778.9" fill="#fff" stroke="#000" stroke-width="1.1" stroke-linejoin="round"/>
<line x1="750.9" y1="1759.1" x2="759.2" y2="1764.2" stroke="#000" stroke-width="1.0"/>
<line x1="759.2" y1="1764.2" x2="763.7" y2="1761.0" stroke="#000" stroke-width="1.0"/>
<line x1="759.2" y1="1764.2" x2="759.2" y2="1784.1" stroke="#000" stroke-width="1.0"/>
<polygon points="502.6,1393.2 505.1,1391.3 508.0,1391.8 513.2,1395.5 531.7,1393.2 536.9,1395.0 536.9,1389.4 541.6,1384.6 552.5,1387.5 552.5,1395.0 550.1,1399.8 544.5,1400.8 541.6,1404.5 541.6,1522.0 502.6,1499.0" fill="#fff" stroke="#000" stroke-width="1.1" stroke-linejoin="round"/>
<line x1="514.6" y1="1395.5" x2="514.6" y2="1505.0" stroke="#000" stroke-width="1.0"/>
<line x1="532.6" y1="1393.5" x2="532.6" y2="1516.0" stroke="#000" stroke-width="1.0"/>
<line x1="537.3" y1="1390.0" x2="537.3" y2="1519.0" stroke="#000" stroke-width="1.0"/>
<line x1="537.5" y1="1391.5" x2="551.0" y2="1397.5" stroke="#000" stroke-width="1.0"/>
<line x1="539.0" y1="1388.5" x2="552.0" y2="1394.0" stroke="#000" stroke-width="0.8"/>
<line x1="532.6" y1="1465.0" x2="537.3" y2="1466.5" stroke="#000" stroke-width="0.8"/>
<line x1="532.6" y1="1468.0" x2="537.3" y2="1469.5" stroke="#000" stroke-width="0.8"/>
<line x1="532.6" y1="1471.0" x2="537.3" y2="1472.5" stroke="#000" stroke-width="0.8"/>
<line x1="532.6" y1="1474.0" x2="537.3" y2="1475.5" stroke="#000" stroke-width="0.8"/>
<line x1="532.6" y1="1477.0" x2="537.3" y2="1478.5" stroke="#000" stroke-width="0.8"/>
<line x1="532.6" y1="1480.0" x2="537.3" y2="1481.5" stroke="#000" stroke-width="0.8"/>
<line x1="532.6" y1="1483.0" x2="537.3" y2="1484.5" stroke="#000" stroke-width="0.8"/>
<line x1="532.6" y1="1486.0" x2="537.3" y2="1487.5" stroke="#000" stroke-width="0.8"/>
<line x1="532.6" y1="1489.0" x2="537.3" y2="1490.5" stroke="#000" stroke-width="0.8"/>
<line x1="532.6" y1="1492.0" x2="537.3" y2="1493.5" stroke="#000" stroke-width="0.8"/>
<line x1="532.6" y1="1495.0" x2="537.3" y2="1496.5" stroke="#000" stroke-width="0.8"/>
<line x1="532.6" y1="1498.0" x2="537.3" y2="1499.5" stroke="#000" stroke-width="0.8"/>
<line x1="532.6" y1="1501.0" x2="537.3" y2="1502.5" stroke="#000" stroke-width="0.8"/>
<line x1="532.6" y1="1504.0" x2="537.3" y2="1505.5" stroke="#000" stroke-width="0.8"/>
<line x1="532.6" y1="1507.0" x2="537.3" y2="1508.5" stroke="#000" stroke-width="0.8"/>
<line x1="532.6" y1="1510.0" x2="537.3" y2="1511.5" stroke="#000" stroke-width="0.8"/>
<line x1="532.6" y1="1513.0" x2="537.3" y2="1514.5" stroke="#000" stroke-width="0.8"/>
<line x1="532.6" y1="1516.0" x2="537.3" y2="1517.5" stroke="#000" stroke-width="0.8"/>
<line x1="532.6" y1="1462.0" x2="537.3" y2="1465.0" stroke="#000" stroke-width="1.0"/>
<ellipse cx="508.2" cy="1408.8" rx="1.6" ry="2.4" fill="none" stroke="#000" stroke-width="0.9" transform="rotate(-25 508.2 1408.8)"/>
<path d="M511,1433 L518.5,1433 L518.5,1435.5 L514.6,1439 L511,1435.5 Z" fill="#fff" stroke="#000" stroke-width="0.9" stroke-linejoin="round" stroke-linecap="round"/>
<path d="M528,1432.5 Q531,1428.5 535.5,1432 L535.5,1435 L528,1435 Z" fill="#fff" stroke="#000" stroke-width="0.9" stroke-linejoin="round" stroke-linecap="round"/>
<line x1="541.9" y1="1405.0" x2="541.9" y2="1520.0" stroke="#000" stroke-width="0.7" stroke-dasharray="1 1"/>
<polygon points="432.2,1451.5 436.0,1448.5 445.7,1454.0 445.7,1470.0 432.2,1462.0" fill="#fff" stroke="#000" stroke-width="1.1" stroke-linejoin="round"/>
<line x1="432.2" y1="1451.5" x2="441.5" y2="1457.0" stroke="#000" stroke-width="1.0"/>
<line x1="441.5" y1="1457.0" x2="445.7" y2="1454.0" stroke="#000" stroke-width="1.0"/>
<line x1="441.5" y1="1457.0" x2="441.5" y2="1468.0" stroke="#000" stroke-width="1.0"/>
<polygon points="280.8,1391.0 297.2,1400.6 315.6,1389.2 702.4,1612.3 700.2,1632.5 696.5,1634.6 277.3,1393.5" fill="#fff" stroke="#000" stroke-width="1.1" stroke-linejoin="round"/>
<polygon points="277.3,1393.5 696.5,1634.6 696.5,1969.2 277.3,1728.0" fill="#fff" stroke="#000" stroke-width="1.1" stroke-linejoin="round"/>
<polygon points="696.5,1634.6 700.2,1632.5 700.2,1967.0 696.5,1969.2" fill="#fff" stroke="#000" stroke-width="1.0" stroke-linejoin="round"/>
<line x1="701.8" y1="1634.0" x2="701.8" y2="1966.0" stroke="#000" stroke-width="0.7" stroke-dasharray="1 1"/>
<line x1="276.3" y1="1395.0" x2="276.3" y2="1727.0" stroke="#000" stroke-width="0.7" stroke-dasharray="1 1"/>
<polyline points="685.3,1623.4 700.8,1614.4 702.9,1615.4 702.9,1618.0 690.0,1626.0" fill="none" stroke="#000" stroke-width="1.0" stroke-linejoin="round"/>
<line x1="689.0" y1="1625.5" x2="702.5" y2="1617.5" stroke="#000" stroke-width="1.0"/>
<polygon points="307.4,1401.4 312.6,1398.6 337.4,1413.0 332.2,1415.8" fill="none" stroke="#000" stroke-width="0.9" stroke-linejoin="round"/>
<line x1="309.2" y1="1401.4" x2="332.4" y2="1414.7" stroke="#000" stroke-width="1.1"/>
<line x1="310.8" y1="1400.5" x2="334.0" y2="1413.9" stroke="#000" stroke-width="1.1"/>
<line x1="312.4" y1="1399.7" x2="335.6" y2="1413.0" stroke="#000" stroke-width="1.1"/>
<polygon points="353.3,1428.3 358.5,1425.5 396.5,1447.5 391.3,1450.3" fill="none" stroke="#000" stroke-width="0.9" stroke-linejoin="round"/>
<line x1="355.1" y1="1428.3" x2="391.5" y2="1449.2" stroke="#000" stroke-width="1.1"/>
<line x1="356.7" y1="1427.4" x2="393.1" y2="1448.4" stroke="#000" stroke-width="1.1"/>
<line x1="358.3" y1="1426.6" x2="394.7" y2="1447.5" stroke="#000" stroke-width="1.1"/>
<polygon points="402.6,1456.4 407.8,1453.6 445.8,1475.6 440.6,1478.4" fill="none" stroke="#000" stroke-width="0.9" stroke-linejoin="round"/>
<line x1="404.4" y1="1456.4" x2="440.8" y2="1477.3" stroke="#000" stroke-width="1.1"/>
<line x1="406.0" y1="1455.5" x2="442.4" y2="1476.5" stroke="#000" stroke-width="1.1"/>
<line x1="407.6" y1="1454.7" x2="444.0" y2="1475.6" stroke="#000" stroke-width="1.1"/>
<polygon points="452.0,1484.6 457.2,1481.8 495.2,1503.8 490.0,1506.6" fill="none" stroke="#000" stroke-width="0.9" stroke-linejoin="round"/>
<line x1="453.8" y1="1484.6" x2="490.2" y2="1505.5" stroke="#000" stroke-width="1.1"/>
<line x1="455.4" y1="1483.7" x2="491.8" y2="1504.7" stroke="#000" stroke-width="1.1"/>
<line x1="457.0" y1="1482.9" x2="493.4" y2="1503.8" stroke="#000" stroke-width="1.1"/>
<polygon points="501.3,1512.7 506.5,1509.9 544.5,1531.9 539.3,1534.7" fill="none" stroke="#000" stroke-width="0.9" stroke-linejoin="round"/>
<line x1="503.1" y1="1512.7" x2="539.5" y2="1533.6" stroke="#000" stroke-width="1.1"/>
<line x1="504.7" y1="1511.8" x2="541.1" y2="1532.8" stroke="#000" stroke-width="1.1"/>
<line x1="506.3" y1="1511.0" x2="542.7" y2="1531.9" stroke="#000" stroke-width="1.1"/>
<polygon points="550.6,1540.8 555.8,1538.0 593.8,1560.0 588.6,1562.8" fill="none" stroke="#000" stroke-width="0.9" stroke-linejoin="round"/>
<line x1="552.4" y1="1540.8" x2="588.8" y2="1561.7" stroke="#000" stroke-width="1.1"/>
<line x1="554.0" y1="1539.9" x2="590.4" y2="1560.9" stroke="#000" stroke-width="1.1"/>
<line x1="555.6" y1="1539.1" x2="592.0" y2="1560.0" stroke="#000" stroke-width="1.1"/>
<polygon points="659.2,1604.0 664.4,1601.2 689.6,1615.8 684.4,1618.6" fill="none" stroke="#000" stroke-width="0.9" stroke-linejoin="round"/>
<line x1="661.0" y1="1604.0" x2="684.6" y2="1617.5" stroke="#000" stroke-width="1.1"/>
<line x1="662.6" y1="1603.1" x2="686.2" y2="1616.7" stroke="#000" stroke-width="1.1"/>
<line x1="664.2" y1="1602.3" x2="687.8" y2="1615.8" stroke="#000" stroke-width="1.1"/>
<rect x="0" y="0" width="291.0" height="168.6" rx="12" ry="12" transform="translate(341.3,1520.6) skewY(30)" fill="none" stroke="#000" stroke-width="1.3"/>
<path d="M345.4,1529 L345.4,1679 Q345.4,1688 353,1691.9 L619,1845.5 Q631,1852 632.3,1838" fill="none" stroke="#000" stroke-width="1.0" stroke-linejoin="round" stroke-linecap="round"/>
<polygon points="449.9,1768.2 491.9,1792.0 491.9,1840.3 449.9,1816.2" fill="none" stroke="#000" stroke-width="1.1" stroke-linejoin="round"/>
<line x1="451.5" y1="1772.0" x2="490.3" y2="1794.3" stroke="#000" stroke-width="0.9"/>
<line x1="490.3" y1="1794.3" x2="490.3" y2="1838.0" stroke="#000" stroke-width="0.9"/>
<circle cx="301.7" cy="1429.0" r="1.3" fill="none" stroke="#000" stroke-width="0.9"/>
<circle cx="670.9" cy="1643.2" r="1.3" fill="none" stroke="#000" stroke-width="0.9"/>
<clipPath id="cw"><rect x="0" y="0" width="279" height="158" rx="10" ry="10" transform="translate(349,1531) skewY(30)"/></clipPath><g clip-path="url(#cw)">
<line x1="362.8" y1="1642.0" x2="628.0" y2="1795.1" stroke="#000" stroke-width="1.1" stroke-dasharray="1.1 3.2"/>
<line x1="364.6" y1="1659.7" x2="628.0" y2="1811.8" stroke="#000" stroke-width="1.1" stroke-dasharray="1.1 3.2"/>
<line x1="581.0" y1="1733.2" x2="628.0" y2="1760.3" stroke="#000" stroke-width="1.1" stroke-dasharray="1.1 3.2"/>
<line x1="592.8" y1="1713.6" x2="628.0" y2="1733.9" stroke="#000" stroke-width="1.1" stroke-dasharray="1.1 3.2"/>
<polyline points="362.0,1560.0 366.0,1562.9 370.0,1565.7 374.0,1568.5 378.0,1571.2 382.0,1573.9 386.0,1576.5 390.0,1579.0 394.0,1581.5 398.0,1583.8 402.0,1586.0 406.0,1588.1 410.0,1590.2 414.0,1592.1 418.0,1594.0 422.0,1595.9 426.0,1597.6 430.0,1599.4 434.0,1601.2 438.0,1603.0 442.0,1604.8 446.0,1606.6 450.0,1608.5 454.0,1610.5 458.0,1612.6 462.0,1614.8 466.0,1617.0 470.0,1619.4 474.0,1621.9 478.0,1624.4 482.0,1627.1 486.0,1629.8 490.0,1632.6 494.0,1635.4 498.0,1638.2 502.0,1641.1 506.0,1643.9 510.0,1646.7 514.0,1649.5 518.0,1652.2 522.0,1654.9 526.0,1657.5 530.0,1659.9 534.0,1662.3 538.0,1664.6 542.0,1666.8 546.0,1668.9 550.0,1670.9 554.0,1672.8 558.0,1674.6" fill="none" stroke="#000" stroke-width="1.1" stroke-linejoin="round" stroke-dasharray="1.1 3.8"/>
<polyline points="363.0,1581.4 367.0,1584.0 371.0,1586.5 375.0,1588.9 379.0,1591.2 383.0,1593.3 387.0,1595.3 391.0,1597.2 395.0,1599.0 399.0,1600.7 403.0,1602.4 407.0,1604.0 411.0,1605.6 415.0,1607.1 419.0,1608.8 423.0,1610.4 427.0,1612.2 431.0,1614.0 435.0,1616.0 439.0,1618.0 443.0,1620.2 447.0,1622.5 451.0,1625.0 455.0,1627.6 459.0,1630.2 463.0,1633.0 467.0,1635.9 471.0,1638.9 475.0,1641.9 479.0,1644.9 483.0,1648.0 487.0,1651.0 491.0,1653.9 495.0,1656.8 499.0,1659.7 503.0,1662.4 507.0,1665.0 511.0,1667.4 515.0,1669.8 519.0,1672.0 523.0,1674.0 527.0,1676.0 531.0,1677.8 535.0,1679.6 539.0,1681.3 543.0,1682.9 547.0,1684.5 551.0,1686.1 555.0,1687.7 559.0,1689.3 563.0,1691.0 567.0,1692.8 571.0,1694.7 575.0,1696.7 579.0,1698.8 583.0,1701.0 587.0,1703.4 591.0,1705.9 595.0,1708.5 599.0,1711.3" fill="none" stroke="#000" stroke-width="1.1" stroke-linejoin="round" stroke-dasharray="1.1 3.8"/>
<polyline points="363.0,1600.7 367.0,1602.8 371.0,1604.7 375.0,1606.6 379.0,1608.4 383.0,1610.2 387.0,1612.0 391.0,1613.8 395.0,1615.6 399.0,1617.4 403.0,1619.2 407.0,1621.1 411.0,1623.1 415.0,1625.2 419.0,1627.4 423.0,1629.6 427.0,1632.0 431.0,1634.5 435.0,1637.0 439.0,1639.7 443.0,1642.4 447.0,1645.2 451.0,1648.0 455.0,1650.8 459.0,1653.7 463.0,1656.5 467.0,1659.3 471.0,1662.1 475.0,1664.8 479.0,1667.5 483.0,1670.1 487.0,1672.5 491.0,1674.9 495.0,1677.2 499.0,1679.4 503.0,1681.5 507.0,1683.5 511.0,1685.4 515.0,1687.2 519.0,1689.1 523.0,1690.8 527.0,1692.6 531.0,1694.4 535.0,1696.2 539.0,1698.0 543.0,1699.9 547.0,1701.8 551.0,1703.9 555.0,1706.0 559.0,1708.2 563.0,1710.5 567.0,1712.9 571.0,1715.4 575.0,1718.0 579.0,1720.7 583.0,1723.4 587.0,1726.2 591.0,1729.0 595.0,1731.9 599.0,1734.7 603.0,1737.6 607.0,1740.4" fill="none" stroke="#000" stroke-width="1.1" stroke-linejoin="round" stroke-dasharray="1.1 3.8"/>
<polyline points="366.0,1620.6 370.0,1622.1 374.0,1623.7 378.0,1625.4 382.0,1627.0 386.0,1628.8 390.0,1630.6 394.0,1632.5 398.0,1634.6 402.0,1636.8 406.0,1639.1 410.0,1641.6 414.0,1644.1 418.0,1646.8 422.0,1649.6 426.0,1652.5 430.0,1655.5 434.0,1658.5 438.0,1661.5 442.0,1664.6 446.0,1667.6 450.0,1670.5 454.0,1673.4 458.0,1676.3 462.0,1679.0 466.0,1681.6 470.0,1684.0 474.0,1686.4 478.0,1688.6 482.0,1690.6 486.0,1692.6 490.0,1694.4 494.0,1696.2 498.0,1697.9 502.0,1699.5 506.0,1701.1 510.0,1702.7 514.0,1704.3 518.0,1705.9 522.0,1707.6 526.0,1709.4 530.0,1711.3 534.0,1713.3 538.0,1715.4 542.0,1717.6 546.0,1720.0 550.0,1722.5 554.0,1725.1 558.0,1727.9 562.0,1730.7 566.0,1733.6 570.0,1736.6 574.0,1739.7 578.0,1742.7 582.0,1745.7 586.0,1748.7 590.0,1751.6 594.0,1754.5 598.0,1757.3 602.0,1759.9 606.0,1762.5 610.0,1764.9 614.0,1767.2 618.0,1769.3 622.0,1771.3" fill="none" stroke="#000" stroke-width="1.1" stroke-linejoin="round" stroke-dasharray="1.1 3.8"/>
<polyline points="420.0,1573.5 424.0,1575.6 428.0,1577.7 432.0,1580.0 436.0,1582.2 440.0,1584.6 444.0,1587.0 448.0,1589.5 452.0,1592.0 456.0,1594.6 460.0,1597.2 464.0,1599.8 468.0,1602.5 472.0,1605.2 476.0,1607.9 480.0,1610.5 484.0,1613.1 488.0,1615.7 492.0,1618.2 496.0,1620.7 500.0,1623.1 504.0,1625.5 508.0,1627.8 512.0,1630.0 516.0,1632.2 520.0,1634.3" fill="none" stroke="#000" stroke-width="1.1" stroke-linejoin="round" stroke-dasharray="1.1 3.8"/>
<polyline points="470.0,1637.1 474.0,1639.6 478.0,1642.2 482.0,1644.9 486.0,1647.7 490.0,1650.5 494.0,1653.3 498.0,1656.1 502.0,1659.0 506.0,1661.8 510.0,1664.6 514.0,1667.4 518.0,1670.1 522.0,1672.7 526.0,1675.2 530.0,1677.6 534.0,1679.9 538.0,1682.2 542.0,1684.3 546.0,1686.4 550.0,1688.3 554.0,1690.2 558.0,1692.0 562.0,1693.8 566.0,1695.6 570.0,1697.4 574.0,1699.2 578.0,1701.0 582.0,1702.8 586.0,1704.7 590.0,1706.7 594.0,1708.8 598.0,1711.0 602.0,1713.2 606.0,1715.6 610.0,1718.0 614.0,1720.6 618.0,1723.2 622.0,1725.9 626.0,1728.7" fill="none" stroke="#000" stroke-width="1.1" stroke-linejoin="round" stroke-dasharray="1.1 3.8"/>
<polyline points="362.0,1544.4 366.0,1547.1 370.0,1549.8 374.0,1552.4 378.0,1555.1 382.0,1557.7 386.0,1560.3 390.0,1562.8 394.0,1565.3 398.0,1567.7 402.0,1570.1 406.0,1572.4 410.0,1574.6 414.0,1576.8 418.0,1578.9 422.0,1580.9 426.0,1582.9 430.0,1584.9 434.0,1586.9 438.0,1588.8 442.0,1590.8 446.0,1592.7 450.0,1594.7 454.0,1596.7 458.0,1598.8 462.0,1600.9 466.0,1603.1 470.0,1605.4 474.0,1607.7 478.0,1610.1" fill="none" stroke="#000" stroke-width="1.1" stroke-linejoin="round" stroke-dasharray="1.1 3.8"/>
</g>
<polygon points="201.2,1510.8 527.1,1698.8 517.6,1714.6 193.4,1527.8" fill="#fff" stroke="#000" stroke-width="1.1" stroke-linejoin="round"/>
<polygon points="159.2,1500.8 164.2,1492.3 188.4,1474.9 211.4,1487.3 211.4,1515.7 201.2,1510.8 194.1,1520.7 193.4,1527.8 160.0,1508.6" fill="#fff" stroke="#000" stroke-width="1.1" stroke-linejoin="round"/>
<line x1="164.2" y1="1495.8" x2="191.9" y2="1511.5" stroke="#000" stroke-width="1.0"/>
<path d="M211.4,1487.3 L201,1505 Q193,1516 193.4,1527.8" fill="none" stroke="#000" stroke-width="1.0" stroke-linejoin="round" stroke-linecap="round"/>
<polygon points="518.2,1708.3 527.1,1699.4 557.9,1688.5 581.6,1702.3 581.6,1727.2 555.5,1737.3 517.6,1714.8" fill="#fff" stroke="#000" stroke-width="1.1" stroke-linejoin="round"/>
<line x1="527.1" y1="1704.7" x2="553.7" y2="1719.5" stroke="#000" stroke-width="1.0"/>
<path d="M581.6,1702.3 L558.5,1719.5 Q551,1729 555.5,1737.3" fill="none" stroke="#000" stroke-width="1.0" stroke-linejoin="round" stroke-linecap="round"/>
<line x1="504.3" y1="1233.0" x2="504.3" y2="1506.6" stroke="#000" stroke-width="1.0" stroke-dasharray="7 5"/>
<line x1="691.5" y1="1337.7" x2="691.5" y2="1600.5" stroke="#000" stroke-width="1.0" stroke-dasharray="7 5"/>
<line x1="391.3" y1="1380.4" x2="346.8" y2="1403.5" stroke="#000" stroke-width="1.0" stroke-dasharray="7 5"/>
<line x1="446.4" y1="1455.0" x2="506.8" y2="1423.0" stroke="#000" stroke-width="1.0" stroke-dasharray="7 5"/>
<line x1="553.0" y1="1385.7" x2="846.9" y2="1215.8" stroke="#000" stroke-width="1.0" stroke-dasharray="7 5"/>
<line x1="301.7" y1="1429.0" x2="211.4" y2="1481.0" stroke="#000" stroke-width="1.0" stroke-dasharray="7 5"/>
<line x1="576.1" y1="1695.3" x2="670.9" y2="1643.7" stroke="#000" stroke-width="1.0" stroke-dasharray="7 5"/>
<line x1="990.6" y1="1396.0" x2="839.5" y2="1483.0" stroke="#000" stroke-width="1.0" stroke-dasharray="7 5"/>
<line x1="839.5" y1="1483.0" x2="743.5" y2="1532.9" stroke="#000" stroke-width="1.0" stroke-dasharray="1 9"/>
<line x1="742.9" y1="1602.1" x2="699.2" y2="1627.2" stroke="#000" stroke-width="1.0" stroke-dasharray="7 5"/>
<line x1="765.0" y1="1640.5" x2="827.2" y2="1604.6" stroke="#000" stroke-width="1.0" stroke-dasharray="7 5"/>
<line x1="765.0" y1="1766.2" x2="1113.2" y2="1580.8" stroke="#000" stroke-width="1.0" stroke-dasharray="7 5"/>
<line x1="732.7" y1="324.0" x2="755.0" y2="275.0" stroke="#000" stroke-width="1.8"/>
<line x1="722.0" y1="355.0" x2="753.3" y2="424.0" stroke="#000" stroke-width="1.8"/>
<polygon points="753.5,273.1 755.2,270.1 765.0,277.2 764.5,278.0" fill="#111" stroke="#000" stroke-width="0.4" stroke-linejoin="round"/>
<circle cx="752.6" cy="270.6" r="3.6" fill="#8a8a8a" stroke="#000" stroke-width="1.2"/>
<circle cx="752.6" cy="270.6" r="1.1" fill="#000" stroke="#000" stroke-width="1.0"/>
<polygon points="753.5,427.8 755.2,424.8 765.0,431.9 764.5,432.7" fill="#111" stroke="#000" stroke-width="0.4" stroke-linejoin="round"/>
<circle cx="752.6" cy="425.3" r="3.6" fill="#8a8a8a" stroke="#000" stroke-width="1.2"/>
<circle cx="752.6" cy="425.3" r="1.1" fill="#000" stroke="#000" stroke-width="1.0"/>
<line x1="1523.0" y1="719.0" x2="1510.6" y2="770.6" stroke="#000" stroke-width="1.8"/>
<line x1="1516.0" y1="806.0" x2="1523.0" y2="866.6" stroke="#000" stroke-width="1.8"/>
<line x1="1521.3" y1="1030.0" x2="1490.0" y2="1064.0" stroke="#000" stroke-width="1.8"/>
<polygon points="1520.4,711.3 1518.7,714.3 1508.9,707.2 1509.4,706.4" fill="#111" stroke="#000" stroke-width="0.4" stroke-linejoin="round"/>
<circle cx="1521.3" cy="713.8" r="3.6" fill="#8a8a8a" stroke="#000" stroke-width="1.2"/>
<circle cx="1521.3" cy="713.8" r="1.1" fill="#000" stroke="#000" stroke-width="1.0"/>
<polygon points="1520.4,868.4 1518.7,871.4 1508.9,864.3 1509.4,863.5" fill="#111" stroke="#000" stroke-width="0.4" stroke-linejoin="round"/>
<circle cx="1521.3" cy="870.9" r="3.6" fill="#8a8a8a" stroke="#000" stroke-width="1.2"/>
<circle cx="1521.3" cy="870.9" r="1.1" fill="#000" stroke="#000" stroke-width="1.0"/>
<polygon points="1521.4,1023.4 1519.7,1026.4 1509.9,1019.3 1510.4,1018.5" fill="#111" stroke="#000" stroke-width="0.4" stroke-linejoin="round"/>
<circle cx="1522.3" cy="1025.9" r="3.6" fill="#8a8a8a" stroke="#000" stroke-width="1.2"/>
<circle cx="1522.3" cy="1025.9" r="1.1" fill="#000" stroke="#000" stroke-width="1.0"/>
<line x1="705.3" y1="584.3" x2="749.2" y2="580.7" stroke="#000" stroke-width="1.8"/>
<polygon points="753.0,584.7 754.7,581.7 764.5,588.8 764.0,589.6" fill="#111" stroke="#000" stroke-width="0.4" stroke-linejoin="round"/>
<circle cx="752.1" cy="582.2" r="3.6" fill="#8a8a8a" stroke="#000" stroke-width="1.2"/>
<circle cx="752.1" cy="582.2" r="1.1" fill="#000" stroke="#000" stroke-width="1.0"/>
<line x1="812.7" y1="521.0" x2="852.0" y2="534.0" stroke="#000" stroke-width="1.8"/>
<line x1="1393.3" y1="884.4" x2="1454.8" y2="892.2" stroke="#000" stroke-width="1.8"/>
<line x1="1416.0" y1="582.0" x2="1468.0" y2="587.0" stroke="#000" stroke-width="1.8"/>
<line x1="712.1" y1="663.1" x2="747.1" y2="669.6" stroke="#000" stroke-width="1.8"/>
<line x1="1044.0" y1="973.0" x2="1089.0" y2="983.0" stroke="#000" stroke-width="1.8"/>
<line x1="857.3" y1="752.0" x2="907.6" y2="779.8" stroke="#000" stroke-width="1.8"/>
<line x1="1162.2" y1="960.8" x2="1203.0" y2="975.0" stroke="#000" stroke-width="1.8"/>
<line x1="517.5" y1="663.7" x2="529.4" y2="705.1" stroke="#000" stroke-width="1.8"/>
<line x1="846.0" y1="986.3" x2="938.7" y2="988.3" stroke="#000" stroke-width="1.8"/>
<line x1="900.2" y1="891.5" x2="958.0" y2="898.0" stroke="#000" stroke-width="1.8"/>
<line x1="517.5" y1="1028.6" x2="564.0" y2="996.6" stroke="#000" stroke-width="1.8"/>
<line x1="736.4" y1="1365.0" x2="718.6" y2="1413.8" stroke="#000" stroke-width="1.8"/>
<line x1="1079.0" y1="783.0" x2="1052.0" y2="838.0" stroke="#000" stroke-width="1.8"/>
<line x1="1175.1" y1="1069.6" x2="1136.6" y2="1106.0" stroke="#000" stroke-width="1.8"/>
<line x1="1227.7" y1="1501.4" x2="1239.6" y2="1574.0" stroke="#000" stroke-width="1.8"/>
<line x1="1041.2" y1="1203.2" x2="1084.8" y2="1204.4" stroke="#000" stroke-width="1.8"/>
<line x1="1327.7" y1="1370.9" x2="1381.0" y2="1385.1" stroke="#000" stroke-width="1.8"/>
<line x1="1099.7" y1="1616.4" x2="1084.8" y2="1659.0" stroke="#000" stroke-width="1.8"/>
<line x1="558.4" y1="1321.7" x2="544.1" y2="1384.0" stroke="#000" stroke-width="1.8"/>
<line x1="834.2" y1="1765.7" x2="873.3" y2="1799.5" stroke="#000" stroke-width="1.8"/>
<line x1="432.2" y1="1398.9" x2="438.6" y2="1448.0" stroke="#000" stroke-width="1.8"/>
<line x1="732.9" y1="1695.3" x2="756.0" y2="1657.3" stroke="#000" stroke-width="1.8"/>
<line x1="734.6" y1="1723.0" x2="756.0" y2="1760.4" stroke="#000" stroke-width="1.8"/>
<line x1="733.6" y1="1540.0" x2="747.0" y2="1596.8" stroke="#000" stroke-width="1.8"/>
<polygon points="746.3,1598.1 748.0,1601.1 737.0,1606.0 736.5,1605.2" fill="#111" stroke="#000" stroke-width="0.4" stroke-linejoin="round"/>
<circle cx="748.9" cy="1598.6" r="3.6" fill="#8a8a8a" stroke="#000" stroke-width="1.2"/>
<circle cx="748.9" cy="1598.6" r="1.1" fill="#000" stroke="#000" stroke-width="1.0"/>
<line x1="235.9" y1="1635.6" x2="312.4" y2="1595.7" stroke="#000" stroke-width="1.8"/>
<line x1="356.8" y1="1881.9" x2="413.3" y2="1807.3" stroke="#000" stroke-width="1.8"/>
<circle cx="530.2" cy="1124.7" r="52.6" fill="none" stroke="#000" stroke-width="2.5"/>
<circle cx="406.2" cy="1258.7" r="52.6" fill="none" stroke="#000" stroke-width="2.5"/>
<line x1="325.5" y1="1123.7" x2="478.4" y2="1123.7" stroke="#000" stroke-width="2.4"/>
<polygon points="319.6,1124.0 323.0,1124.0 321.8,1136.0 320.8,1136.0" fill="#111" stroke="#000" stroke-width="0.4" stroke-linejoin="round"/>
<circle cx="321.3" cy="1122.0" r="3.6" fill="#8a8a8a" stroke="#000" stroke-width="1.2"/>
<circle cx="321.3" cy="1122.0" r="1.1" fill="#000" stroke="#000" stroke-width="1.0"/>
<line x1="519.3" y1="1177.8" x2="504.0" y2="1224.0" stroke="#000" stroke-width="2.2"/>
<polygon points="502.3,1228.5 505.7,1228.5 504.5,1240.5 503.5,1240.5" fill="#111" stroke="#000" stroke-width="0.4" stroke-linejoin="round"/>
<circle cx="504.0" cy="1226.5" r="3.6" fill="#8a8a8a" stroke="#000" stroke-width="1.2"/>
<circle cx="504.0" cy="1226.5" r="1.1" fill="#000" stroke="#000" stroke-width="1.0"/>
<line x1="565.5" y1="1165.3" x2="689.9" y2="1328.8" stroke="#000" stroke-width="2.2"/>
<polygon points="689.6,1334.4 693.0,1334.4 691.8,1346.4 690.8,1346.4" fill="#111" stroke="#000" stroke-width="0.4" stroke-linejoin="round"/>
<circle cx="691.3" cy="1332.4" r="3.6" fill="#8a8a8a" stroke="#000" stroke-width="1.2"/>
<circle cx="691.3" cy="1332.4" r="1.1" fill="#000" stroke="#000" stroke-width="1.0"/>
<line x1="403.7" y1="1311.0" x2="394.8" y2="1373.3" stroke="#000" stroke-width="2.2"/>
<polygon points="393.3,1375.3 395.0,1378.3 384.0,1383.2 383.5,1382.4" fill="#111" stroke="#000" stroke-width="0.4" stroke-linejoin="round"/>
<circle cx="395.9" cy="1375.8" r="3.6" fill="#8a8a8a" stroke="#000" stroke-width="1.2"/>
<circle cx="395.9" cy="1375.8" r="1.1" fill="#000" stroke="#000" stroke-width="1.0"/>
<polygon points="535.0,1132.5 546.6,1132.5 546.6,1158.5 540.5,1166.5 535.0,1158.5" fill="#fff" stroke="#000" stroke-width="1.0" stroke-linejoin="round"/>
<line x1="535.0" y1="1136.5" x2="546.6" y2="1137.7" stroke="#000" stroke-width="1.2"/>
<line x1="535.0" y1="1139.3" x2="546.6" y2="1140.5" stroke="#000" stroke-width="1.2"/>
<line x1="535.0" y1="1142.1" x2="546.6" y2="1143.3" stroke="#000" stroke-width="1.2"/>
<line x1="535.0" y1="1144.9" x2="546.6" y2="1146.1" stroke="#000" stroke-width="1.2"/>
<line x1="535.0" y1="1147.7" x2="546.6" y2="1148.9" stroke="#000" stroke-width="1.2"/>
<line x1="535.0" y1="1150.5" x2="546.6" y2="1151.7" stroke="#000" stroke-width="1.2"/>
<line x1="535.0" y1="1153.3" x2="546.6" y2="1154.5" stroke="#000" stroke-width="1.2"/>
<line x1="535.0" y1="1156.1" x2="546.6" y2="1157.3" stroke="#000" stroke-width="1.2"/>
<line x1="535.0" y1="1158.9" x2="546.6" y2="1160.1" stroke="#000" stroke-width="1.2"/>
<ellipse cx="541.0" cy="1128.3" rx="18" ry="7.6" fill="#fff" stroke="#000" stroke-width="1.1" transform="rotate(0 541.0 1128.3)"/>
<ellipse cx="541.0" cy="1126.3" rx="17.2" ry="7.2" fill="#fff" stroke="#000" stroke-width="1.0" transform="rotate(0 541.0 1126.3)"/>
<ellipse cx="541.0" cy="1124.5" rx="14.5" ry="5.6" fill="#fff" stroke="#000" stroke-width="1.0" transform="rotate(0 541.0 1124.5)"/>
<path d="M535,1124.0 l4,-0.8 l0.5,-1.8 l4,0 l0.3,1.8 l4,0.6 l-0.3,1.8 l-4,0.3 l-0.3,1.6 l-4,0 l-0.3,-1.6 l-4,-0.3 Z" fill="none" stroke="#000" stroke-width="0.9" stroke-linejoin="round" stroke-linecap="round"/>
<path d="M407.29999999999995,1269.8 L407.29999999999995,1294.8 Q413.9,1303.8 420.4,1294.8 L420.4,1269.8 Z" fill="#fff" stroke="#000" stroke-width="1.0" stroke-linejoin="round" stroke-linecap="round"/>
<line x1="407.3" y1="1273.8" x2="420.4" y2="1274.8" stroke="#000" stroke-width="1.2"/>
<line x1="407.3" y1="1276.5" x2="420.4" y2="1277.5" stroke="#000" stroke-width="1.2"/>
<line x1="407.3" y1="1279.2" x2="420.4" y2="1280.2" stroke="#000" stroke-width="1.2"/>
<line x1="407.3" y1="1281.9" x2="420.4" y2="1282.9" stroke="#000" stroke-width="1.2"/>
<line x1="407.3" y1="1284.6" x2="420.4" y2="1285.6" stroke="#000" stroke-width="1.2"/>
<line x1="407.3" y1="1287.3" x2="420.4" y2="1288.3" stroke="#000" stroke-width="1.2"/>
<line x1="407.3" y1="1290.0" x2="420.4" y2="1291.0" stroke="#000" stroke-width="1.2"/>
<line x1="407.3" y1="1292.7" x2="420.4" y2="1293.7" stroke="#000" stroke-width="1.2"/>
<line x1="407.3" y1="1295.4" x2="420.4" y2="1296.4" stroke="#000" stroke-width="1.2"/>
<ellipse cx="413.9" cy="1261.8" rx="17" ry="9.2" fill="#fff" stroke="#000" stroke-width="1.1" transform="rotate(0 413.9 1261.8)"/>
<ellipse cx="413.9" cy="1259.5" rx="8.5" ry="4.6" fill="#fff" stroke="#000" stroke-width="1.0" transform="rotate(0 413.9 1259.5)"/>
<path d="M408.9,1259.3 l3.5,-0.5 l0.4,-1.6 l2.4,0 l0.4,1.6 l3.5,0.4 l-0.2,1.5 l-3.4,0.3 l-0.3,1.5 l-2.4,0 l-0.3,-1.5 l-3.4,-0.3 Z" fill="none" stroke="#000" stroke-width="0.9" stroke-linejoin="round" stroke-linecap="round"/>
<text x="705.0" y="348.0" font-size="25">56</text>
<text x="1497.5" y="795.5" font-size="25">56</text>
<text x="1467.3" y="1090.0" font-size="25">56</text>
<text x="671.8" y="592.6" font-size="25">56</text>
<text x="855.5" y="548.0" font-size="25">3A</text>
<text x="1356.0" y="887.0" font-size="25">3A</text>
<text x="1472.1" y="594.0" font-size="25">12</text>
<text x="677.7" y="666.0" font-size="25">22</text>
<text x="1015.3" y="976.5" font-size="25">22</text>
<text x="907.4" y="797.0" font-size="25">23</text>
<text x="1207.0" y="991.8" font-size="25">23</text>
<text x="499.2" y="657.2" font-size="25">17</text>
<text x="941.5" y="995.2" font-size="25">17</text>
<text x="961.8" y="907.8" font-size="25">8</text>
<text x="500.8" y="1047.0" font-size="25">8</text>
<text x="738.3" y="1359.7" font-size="25">8</text>
<text x="1041.5" y="860.4" font-size="25">9</text>
<text x="1176.2" y="1065.8" font-size="25">7A</text>
<text x="1222.3" y="1599.8" font-size="25">7A</text>
<text x="1087.6" y="1213.3" font-size="25">7</text>
<text x="1382.9" y="1391.0" font-size="25">7</text>
<text x="496.9" y="1112.7" font-size="25">56</text>
<text x="371.9" y="1244.8" font-size="25">10</text>
<text x="549.7" y="1318.2" font-size="25">40</text>
<text x="873.3" y="1814.8" font-size="25">40</text>
<text x="416.8" y="1395.7" font-size="25">64</text>
<text x="711.1" y="1717.7" font-size="25">64</text>
<text x="712.7" y="1529.3" font-size="25">10</text>
<text x="1071.2" y="1683.2" font-size="25">6</text>
<text x="207.6" y="1656.2" font-size="25">39</text>
<text x="321.7" y="1906.0" font-size="25">13</text>
</svg></body></html>
